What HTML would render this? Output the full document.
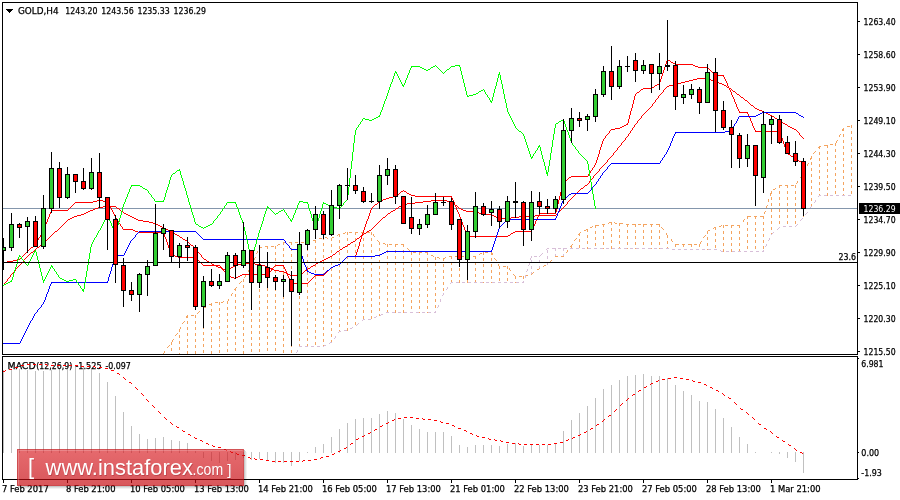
<!DOCTYPE html>
<html><head><meta charset="utf-8"><title>GOLD H4</title>
<style>
html,body{margin:0;padding:0;background:#fff;}
body{width:900px;height:500px;overflow:hidden;}
svg{display:block;font-family:"DejaVu Sans Condensed","DejaVu Sans","Liberation Sans",sans-serif;}
.wm{font-family:"Liberation Sans",sans-serif;}
</style></head><body>
<svg width="900" height="500" viewBox="0 0 900 500" shape-rendering="crispEdges">
<defs>
<clipPath id="cm"><rect x="3" y="3" width="854" height="351"/></clipPath>
<linearGradient id="wg" x1="0" y1="0" x2="0" y2="1"><stop offset="0" stop-color="rgb(216,22,28)" stop-opacity="0.64"/><stop offset="1" stop-color="rgb(198,8,14)" stop-opacity="0.68"/></linearGradient>
<clipPath id="cs"><rect x="3" y="357" width="854" height="122"/></clipPath>
</defs>
<rect width="900" height="500" fill="#fff"/>
<g clip-path="url(#cm)">
<path d="M163.5 353v3M163.5 359v3M163.5 365v3M163.5 371v3M163.5 377v3M163.5 383v3M163.5 389v3M163.5 395v3" fill="none" stroke="#F4A460" stroke-width="1"/>
<path d="M171.5 342v3M171.5 348v3M171.5 354v3M171.5 360v3M171.5 366v3M171.5 372v3M171.5 378v3M171.5 384v3M171.5 390v3M171.5 396v3" fill="none" stroke="#F4A460" stroke-width="1"/>
<path d="M179.5 329v3M179.5 335v3M179.5 341v3M179.5 347v3M179.5 353v3M179.5 359v3M179.5 365v3M179.5 371v3M179.5 377v3M179.5 383v3M179.5 389v3M179.5 395v3" fill="none" stroke="#F4A460" stroke-width="1"/>
<path d="M187.5 315v3M187.5 321v3M187.5 327v3M187.5 333v3M187.5 339v3M187.5 345v3M187.5 351v3M187.5 357v3M187.5 363v3M187.5 369v3M187.5 375v3M187.5 381v3M187.5 387v3M187.5 393v3M187.5 399v2" fill="none" stroke="#F4A460" stroke-width="1"/>
<path d="M195.5 315v3M195.5 321v3M195.5 327v3M195.5 333v3M195.5 339v3M195.5 345v3M195.5 351v3M195.5 357v3M195.5 363v3M195.5 369v3M195.5 375v3M195.5 381v3M195.5 387v3M195.5 393v3M195.5 399v2" fill="none" stroke="#F4A460" stroke-width="1"/>
<path d="M203.5 308v3M203.5 314v3M203.5 320v3M203.5 326v3M203.5 332v3M203.5 338v3M203.5 344v3M203.5 350v3M203.5 356v3M203.5 362v3M203.5 368v3M203.5 374v3M203.5 380v3M203.5 386v3M203.5 392v3M203.5 398v3" fill="none" stroke="#F4A460" stroke-width="1"/>
<path d="M211.5 303v3M211.5 309v3M211.5 315v3M211.5 321v3M211.5 327v3M211.5 333v3M211.5 339v3M211.5 345v3M211.5 351v3M211.5 357v3M211.5 363v3M211.5 369v3M211.5 375v3M211.5 381v3M211.5 387v3M211.5 393v3M211.5 399v2" fill="none" stroke="#F4A460" stroke-width="1"/>
<path d="M219.5 302v3M219.5 308v3M219.5 314v3M219.5 320v3M219.5 326v3M219.5 332v3M219.5 338v3M219.5 344v3M219.5 350v3M219.5 356v3M219.5 362v3M219.5 368v3M219.5 374v3M219.5 380v3M219.5 386v3M219.5 392v3M219.5 398v3" fill="none" stroke="#F4A460" stroke-width="1"/>
<path d="M227.5 301v3M227.5 307v3M227.5 313v3M227.5 319v3M227.5 325v3M227.5 331v3M227.5 337v3M227.5 343v3M227.5 349v3M227.5 355v3M227.5 361v3M227.5 367v3M227.5 373v3M227.5 379v3M227.5 385v3M227.5 391v3M227.5 397v3" fill="none" stroke="#F4A460" stroke-width="1"/>
<path d="M235.5 288v3M235.5 294v3M235.5 300v3M235.5 306v3M235.5 312v3M235.5 318v3M235.5 324v3M235.5 330v3M235.5 336v3M235.5 342v3M235.5 348v3M235.5 354v3M235.5 360v3M235.5 366v3M235.5 372v3M235.5 378v3M235.5 384v3M235.5 390v3M235.5 396v3" fill="none" stroke="#F4A460" stroke-width="1"/>
<path d="M243.5 279v3M243.5 285v3M243.5 291v3M243.5 297v3M243.5 303v3M243.5 309v3M243.5 315v3M243.5 321v3M243.5 327v3M243.5 333v3M243.5 339v3M243.5 345v3M243.5 351v3M243.5 357v3M243.5 363v3M243.5 369v3M243.5 375v3M243.5 381v3M243.5 387v3M243.5 393v3M243.5 399v2" fill="none" stroke="#F4A460" stroke-width="1"/>
<path d="M251.5 265v3M251.5 271v3M251.5 277v3M251.5 283v3M251.5 289v3M251.5 295v3M251.5 301v3M251.5 307v3M251.5 313v3M251.5 319v3M251.5 325v3M251.5 331v3M251.5 337v3M251.5 343v3M251.5 349v3M251.5 355v3M251.5 361v3M251.5 367v3M251.5 373v3M251.5 379v3M251.5 385v3M251.5 391v3M251.5 397v3" fill="none" stroke="#F4A460" stroke-width="1"/>
<path d="M259.5 247v3M259.5 253v3M259.5 259v3M259.5 265v3M259.5 271v3M259.5 277v3M259.5 283v3M259.5 289v3M259.5 295v3M259.5 301v3M259.5 307v3M259.5 313v3M259.5 319v3M259.5 325v3M259.5 331v3M259.5 337v3M259.5 343v3M259.5 349v3M259.5 355v3M259.5 361v3M259.5 367v3M259.5 373v3M259.5 379v3M259.5 385v3M259.5 391v3M259.5 397v3" fill="none" stroke="#F4A460" stroke-width="1"/>
<path d="M267.5 246v3M267.5 252v3M267.5 258v3M267.5 264v3M267.5 270v3M267.5 276v3M267.5 282v3M267.5 288v3M267.5 294v3M267.5 300v3M267.5 306v3M267.5 312v3M267.5 318v3M267.5 324v3M267.5 330v3M267.5 336v3M267.5 342v3M267.5 348v3M267.5 354v3M267.5 360v3M267.5 366v3M267.5 372v3M267.5 378v3M267.5 384v3M267.5 390v3M267.5 396v3" fill="none" stroke="#F4A460" stroke-width="1"/>
<path d="M275.5 246v3M275.5 252v3M275.5 258v3M275.5 264v3M275.5 270v3M275.5 276v3M275.5 282v3M275.5 288v3M275.5 294v3M275.5 300v3M275.5 306v3M275.5 312v3M275.5 318v3M275.5 324v3M275.5 330v3M275.5 336v3M275.5 342v3M275.5 348v3M275.5 354v3M275.5 360v3M275.5 366v3M275.5 372v3M275.5 378v3M275.5 384v3M275.5 390v3M275.5 396v3" fill="none" stroke="#F4A460" stroke-width="1"/>
<path d="M283.5 242v3M283.5 248v3M283.5 254v3M283.5 260v3M283.5 266v3M283.5 272v3M283.5 278v3M283.5 284v3M283.5 290v3M283.5 296v3M283.5 302v3M283.5 308v3M283.5 314v3M283.5 320v3M283.5 326v3M283.5 332v3M283.5 338v3M283.5 344v3M283.5 350v3M283.5 356v3M283.5 362v3M283.5 368v3M283.5 374v3M283.5 380v3M283.5 386v3M283.5 392v3M283.5 398v3" fill="none" stroke="#F4A460" stroke-width="1"/>
<path d="M291.5 242v3M291.5 248v3M291.5 254v3M291.5 260v3M291.5 266v3M291.5 272v3M291.5 278v3M291.5 284v3M291.5 290v3M291.5 296v3M291.5 302v3M291.5 308v3M291.5 314v3M291.5 320v3M291.5 326v3M291.5 332v3M291.5 338v3M291.5 344v3M291.5 350v3M291.5 356v3M291 362.5h1" fill="none" stroke="#F4A460" stroke-width="1"/>
<path d="M299.5 242v3M299.5 248v3M299.5 254v3M299.5 260v3M299.5 266v3M299.5 272v3M299.5 278v3M299.5 284v3M299.5 290v3M299.5 296v3M299.5 302v3M299.5 308v3M299.5 314v3M299.5 320v3M299.5 326v3M299.5 332v3M299.5 338v3M299.5 344v3" fill="none" stroke="#F4A460" stroke-width="1"/>
<path d="M307.5 242v3M307.5 248v3M307.5 254v3M307.5 260v3M307.5 266v3M307.5 272v3M307.5 278v3M307.5 284v3M307.5 290v3M307.5 296v3M307.5 302v3M307.5 308v3M307.5 314v3M307.5 320v3M307.5 326v3M307.5 332v3M307.5 338v3M307.5 344v3" fill="none" stroke="#F4A460" stroke-width="1"/>
<path d="M315.5 240v3M315.5 246v3M315.5 252v3M315.5 258v3M315.5 264v3M315.5 270v3M315.5 276v3M315.5 282v3M315.5 288v3M315.5 294v3M315.5 300v3M315.5 306v3M315.5 312v3M315.5 318v3M315.5 324v3M315.5 330v3M315.5 336v3M315.5 342v3" fill="none" stroke="#F4A460" stroke-width="1"/>
<path d="M323.5 237v3M323.5 243v3M323.5 249v3M323.5 255v3M323.5 261v3M323.5 267v3M323.5 273v3M323.5 279v3M323.5 285v3M323.5 291v3M323.5 297v3M323.5 303v3M323.5 309v3M323.5 315v3M323.5 321v3M323.5 327v3M323.5 333v3M323.5 339v3M323.5 345v2" fill="none" stroke="#F4A460" stroke-width="1"/>
<path d="M331.5 238v3M331.5 244v3M331.5 250v3M331.5 256v3M331.5 262v3M331.5 268v3M331.5 274v3M331.5 280v3M331.5 286v3M331.5 292v3M331.5 298v3M331.5 304v3M331.5 310v3M331.5 316v3M331.5 322v3M331.5 328v3M331.5 334v3M331.5 340v3" fill="none" stroke="#F4A460" stroke-width="1"/>
<path d="M339.5 234v3M339.5 240v3M339.5 246v3M339.5 252v3M339.5 258v3M339.5 264v3M339.5 270v3M339.5 276v3M339.5 282v3M339.5 288v3M339.5 294v3M339.5 300v3M339.5 306v3M339.5 312v3M339.5 318v3M339.5 324v3M339.5 330v2" fill="none" stroke="#F4A460" stroke-width="1"/>
<path d="M347.5 232v3M347.5 238v3M347.5 244v3M347.5 250v3M347.5 256v3M347.5 262v3M347.5 268v3M347.5 274v3M347.5 280v3M347.5 286v3M347.5 292v3M347.5 298v3M347.5 304v3M347.5 310v3M347.5 316v3M347.5 322v3M347.5 328v3" fill="none" stroke="#F4A460" stroke-width="1"/>
<path d="M355.5 232v3M355.5 238v3M355.5 244v3M355.5 250v3M355.5 256v3M355.5 262v3M355.5 268v3M355.5 274v3M355.5 280v3M355.5 286v3M355.5 292v3M355.5 298v3M355.5 304v3M355.5 310v3M355.5 316v3M355.5 322v3" fill="none" stroke="#F4A460" stroke-width="1"/>
<path d="M363.5 232v3M363.5 238v3M363.5 244v3M363.5 250v3M363.5 256v3M363.5 262v3M363.5 268v3M363.5 274v3M363.5 280v3M363.5 286v3M363.5 292v3M363.5 298v3M363.5 304v3M363.5 310v3M363.5 316v3" fill="none" stroke="#F4A460" stroke-width="1"/>
<path d="M371.5 232v3M371.5 238v3M371.5 244v3M371.5 250v3M371.5 256v3M371.5 262v3M371.5 268v3M371.5 274v3M371.5 280v3M371.5 286v3M371.5 292v3M371.5 298v3M371.5 304v3M371.5 310v3M371.5 316v3" fill="none" stroke="#F4A460" stroke-width="1"/>
<path d="M379.5 242v3M379.5 248v3M379.5 254v3M379.5 260v3M379.5 266v3M379.5 272v3M379.5 278v3M379.5 284v3M379.5 290v3M379.5 296v3M379.5 302v3M379.5 308v3M379.5 314v2" fill="none" stroke="#F4A460" stroke-width="1"/>
<path d="M387.5 244v3M387.5 250v3M387.5 256v3M387.5 262v3M387.5 268v3M387.5 274v3M387.5 280v3M387.5 286v3M387.5 292v3M387.5 298v3M387.5 304v3M387.5 310v3" fill="none" stroke="#F4A460" stroke-width="1"/>
<path d="M395.5 244v3M395.5 250v3M395.5 256v3M395.5 262v3M395.5 268v3M395.5 274v3M395.5 280v3M395.5 286v3M395.5 292v3M395.5 298v3M395.5 304v3M395.5 310v3" fill="none" stroke="#F4A460" stroke-width="1"/>
<path d="M403.5 244v3M403.5 250v3M403.5 256v3M403.5 262v3M403.5 268v3M403.5 274v3M403.5 280v3M403.5 286v3M403.5 292v3M403.5 298v3M403.5 304v3M403.5 310v3" fill="none" stroke="#F4A460" stroke-width="1"/>
<path d="M411.5 252v3M411.5 258v3M411.5 264v3M411.5 270v3M411.5 276v3M411.5 282v3M411.5 288v3M411.5 294v3M411.5 300v3M411.5 306v3M411 312.5h1" fill="none" stroke="#F4A460" stroke-width="1"/>
<path d="M419.5 252v3M419.5 258v3M419.5 264v3M419.5 270v3M419.5 276v3M419.5 282v3M419.5 288v3M419.5 294v3M419.5 300v3M419.5 306v3M419 312.5h1" fill="none" stroke="#F4A460" stroke-width="1"/>
<path d="M427.5 252v3M427.5 258v3M427.5 264v3M427.5 270v3M427.5 276v3M427.5 282v3M427.5 288v3M427.5 294v3M427.5 300v3M427.5 306v3M427 312.5h1" fill="none" stroke="#F4A460" stroke-width="1"/>
<path d="M435.5 257v3M435.5 263v3M435.5 269v3M435.5 275v3M435.5 281v3M435.5 287v3M435.5 293v3M435.5 299v3M435.5 305v3M435.5 311v2" fill="none" stroke="#F4A460" stroke-width="1"/>
<path d="M443.5 258v3M443.5 264v3M443.5 270v3M443.5 276v3M443.5 282v3M443.5 288v3" fill="none" stroke="#F4A460" stroke-width="1"/>
<path d="M451.5 256v3M451.5 262v3M451.5 268v3M451.5 274v3M451.5 280v3" fill="none" stroke="#F4A460" stroke-width="1"/>
<path d="M459.5 256v3M459.5 262v3M459.5 268v3M459.5 274v3M459.5 280v3" fill="none" stroke="#F4A460" stroke-width="1"/>
<path d="M467.5 256v3M467.5 262v3M467.5 268v3M467.5 274v3M467.5 280v3" fill="none" stroke="#F4A460" stroke-width="1"/>
<path d="M475.5 256v3M475.5 262v3M475.5 268v3M475.5 274v3M475.5 280v3" fill="none" stroke="#F4A460" stroke-width="1"/>
<path d="M483.5 252v3M483.5 258v3M483.5 264v3M483.5 270v3M483.5 276v3M483 282.5h1" fill="none" stroke="#F4A460" stroke-width="1"/>
<path d="M491.5 252v3M491.5 258v3M491.5 264v3M491.5 270v3M491.5 276v3M491 282.5h1" fill="none" stroke="#F4A460" stroke-width="1"/>
<path d="M499.5 266v3M499.5 272v3M499.5 278v3" fill="none" stroke="#F4A460" stroke-width="1"/>
<path d="M507.5 266v3M507.5 272v3M507.5 278v3" fill="none" stroke="#F4A460" stroke-width="1"/>
<path d="M515.5 276v3M515 282.5h1" fill="none" stroke="#F4A460" stroke-width="1"/>
<path d="M523.5 276v3M523 282.5h1" fill="none" stroke="#F4A460" stroke-width="1"/>
<path d="M531.5 272v3M531.5 266v3M531.5 260v3M531 256.5h1" fill="none" stroke="#D8BFD8" stroke-width="1"/>
<path d="M539.5 266v3M539.5 260v3M539 256.5h1" fill="none" stroke="#D8BFD8" stroke-width="1"/>
<path d="M547.5 262v3M547.5 256v3M547.5 250v3" fill="none" stroke="#D8BFD8" stroke-width="1"/>
<path d="M555.5 254v3M555.5 248v3" fill="none" stroke="#D8BFD8" stroke-width="1"/>
<path d="M563.5 254v3M563.5 248v3" fill="none" stroke="#D8BFD8" stroke-width="1"/>
<path d="M571.5 245v3" fill="none" stroke="#F4A460" stroke-width="1"/>
<path d="M579.5 233v3M579.5 239v3M579.5 245v3" fill="none" stroke="#F4A460" stroke-width="1"/>
<path d="M587.5 229v3M587.5 235v3M587.5 241v3M587.5 247v2" fill="none" stroke="#F4A460" stroke-width="1"/>
<path d="M595.5 225v3M595.5 231v3M595.5 237v3M595.5 243v3" fill="none" stroke="#F4A460" stroke-width="1"/>
<path d="M603.5 224v3M603.5 230v3M603.5 236v3M603.5 242v3M603 248.5h1" fill="none" stroke="#F4A460" stroke-width="1"/>
<path d="M611.5 222v3M611.5 228v3M611.5 234v3M611.5 240v3M611.5 246v3" fill="none" stroke="#F4A460" stroke-width="1"/>
<path d="M619.5 223v3M619.5 229v3M619.5 235v3M619.5 241v3M619.5 247v2" fill="none" stroke="#F4A460" stroke-width="1"/>
<path d="M627.5 224v3M627.5 230v3M627.5 236v3M627.5 242v3M627 248.5h1" fill="none" stroke="#F4A460" stroke-width="1"/>
<path d="M635.5 224v3M635.5 230v3M635.5 236v3M635.5 242v3M635 248.5h1" fill="none" stroke="#F4A460" stroke-width="1"/>
<path d="M643.5 224v3M643.5 230v3M643.5 236v3M643.5 242v3M643 248.5h1" fill="none" stroke="#F4A460" stroke-width="1"/>
<path d="M651.5 224v3M651.5 230v3M651.5 236v3M651.5 242v3M651 248.5h1" fill="none" stroke="#F4A460" stroke-width="1"/>
<path d="M659.5 224v3M659.5 230v3M659.5 236v3M659.5 242v3M659 248.5h1" fill="none" stroke="#F4A460" stroke-width="1"/>
<path d="M667.5 235v3M667.5 241v3M667.5 247v2" fill="none" stroke="#F4A460" stroke-width="1"/>
<path d="M675.5 244v3" fill="none" stroke="#F4A460" stroke-width="1"/>
<path d="M683.5 244v3" fill="none" stroke="#F4A460" stroke-width="1"/>
<path d="M691.5 244v3" fill="none" stroke="#F4A460" stroke-width="1"/>
<path d="M699.5 244v3" fill="none" stroke="#F4A460" stroke-width="1"/>
<path d="M707.5 231v3M707.5 237v3M707.5 243v3M707 249.5h1" fill="none" stroke="#F4A460" stroke-width="1"/>
<path d="M715.5 227v3M715.5 233v3M715.5 239v3M715.5 245v3" fill="none" stroke="#F4A460" stroke-width="1"/>
<path d="M723.5 225v3M723.5 231v3M723.5 237v3M723.5 243v3M723.5 249v3" fill="none" stroke="#F4A460" stroke-width="1"/>
<path d="M731.5 225v3M731.5 231v3M731.5 237v3M731.5 243v3M731.5 249v3" fill="none" stroke="#F4A460" stroke-width="1"/>
<path d="M739.5 225v3M739.5 231v3M739.5 237v3M739.5 243v3M739.5 249v3" fill="none" stroke="#F4A460" stroke-width="1"/>
<path d="M747.5 216v3M747.5 222v3M747.5 228v3M747.5 234v3M747.5 240v3M747.5 246v3" fill="none" stroke="#F4A460" stroke-width="1"/>
<path d="M755.5 216v3M755.5 222v3M755.5 228v3M755.5 234v3M755.5 240v3M755.5 246v3" fill="none" stroke="#F4A460" stroke-width="1"/>
<path d="M763.5 216v3M763.5 222v3M763.5 228v3M763.5 234v3M763.5 240v3M763.5 246v3" fill="none" stroke="#F4A460" stroke-width="1"/>
<path d="M771.5 191v3M771.5 197v3M771.5 203v3M771.5 209v3M771.5 215v3M771.5 221v3M771.5 227v3M771.5 233v2" fill="none" stroke="#F4A460" stroke-width="1"/>
<path d="M779.5 185v3M779.5 191v3M779.5 197v3M779.5 203v3M779.5 209v3M779.5 215v3M779.5 221v3M779 227.5h1" fill="none" stroke="#F4A460" stroke-width="1"/>
<path d="M787.5 185v3M787.5 191v3M787.5 197v3M787.5 203v3M787.5 209v3M787.5 215v3M787.5 221v3" fill="none" stroke="#F4A460" stroke-width="1"/>
<path d="M795.5 185v3M795.5 191v3M795.5 197v3M795.5 203v3M795.5 209v3M795.5 215v3M795.5 221v3" fill="none" stroke="#F4A460" stroke-width="1"/>
<path d="M803.5 172v3M803.5 178v3M803.5 184v3M803.5 190v3M803.5 196v3M803.5 202v3M803.5 208v3M803.5 214v3" fill="none" stroke="#F4A460" stroke-width="1"/>
<path d="M811.5 156v3M811.5 162v3M811.5 168v3M811.5 174v3M811.5 180v3M811.5 186v3M811.5 192v3M811.5 198v3M811.5 204v3" fill="none" stroke="#F4A460" stroke-width="1"/>
<path d="M819.5 146v3M819.5 152v3M819.5 158v3M819.5 164v3M819.5 170v3M819.5 176v3M819.5 182v3M819.5 188v3M819.5 194v2" fill="none" stroke="#F4A460" stroke-width="1"/>
<path d="M827.5 145v3M827.5 151v3M827.5 157v3M827.5 163v3M827.5 169v3M827.5 175v3M827.5 181v3M827.5 187v3M827.5 193v3" fill="none" stroke="#F4A460" stroke-width="1"/>
<path d="M835.5 143v3M835.5 149v3M835.5 155v3M835.5 161v3M835.5 167v3M835.5 173v3M835.5 179v3M835.5 185v3M835.5 191v3" fill="none" stroke="#F4A460" stroke-width="1"/>
<path d="M843.5 128v3M843.5 134v3M843.5 140v3M843.5 146v3M843.5 152v3M843.5 158v3M843.5 164v3M843.5 170v3M843.5 176v3M843.5 182v3M843.5 188v3M843.5 194v2" fill="none" stroke="#F4A460" stroke-width="1"/>
<path d="M851.5 125v3M851.5 131v3M851.5 137v3M851.5 143v3M851.5 149v3M851.5 155v3M851.5 161v3M851.5 167v3M851.5 173v3M851.5 179v3M851.5 185v3M851.5 191v3" fill="none" stroke="#F4A460" stroke-width="1"/>
<path d="M163 353.5h1M164.5 351v2M167 347.5h1M168 346.5h1M169 345.5h1M172.5 340v2M173 339.5h1M175 335.5h1M176 334.5h1M177 333.5h1M179 329.5h1M180.5 327v2M182 323.5h1M183 322.5h1M184 321.5h1M186.5 316v2M187 315.5h1M191 315.5h3M197 313.5h1M198 312.5h1M199 311.5h1M203 308.5h1M204 307.5h2M209 304.5h2M211 303.5h1M215 302.5h3M221 302.5h2M223 301.5h1M227 301.5h1M228.5 299v2M231.5 294v2M232 293.5h1M234 289.5h1M235 288.5h1M236 287.5h1M239 283.5h1M240 282.5h1M241 281.5h1M244 277.5h1M245.5 275v2M248.5 270v2M249 269.5h1M251.5 264v2M252 263.5h1M254.5 258v2M255 257.5h1M256 253.5h1M257.5 251v2M259 247.5h3M265 246.5h3M271 246.5h3M277 245.5h1M278 244.5h2M283 242.5h3M289 242.5h3M295 242.5h3M301 242.5h3M307 242.5h2M309 241.5h1M313 240.5h3M319 238.5h3M325 237.5h2M327 238.5h1M331 238.5h1M332 237.5h2M337 235.5h1M338 234.5h2M343 233.5h2M345 232.5h1M349 232.5h3M355 232.5h3M361 232.5h3M367 232.5h3M373.5 234v2M374 236.5h1M377 240.5h1M378 241.5h1M379 242.5h1M383 243.5h2M385 244.5h1M389 244.5h3M395 244.5h3M401 244.5h3M407 248.5h1M408 249.5h1M409 250.5h1M413 252.5h3M419 252.5h3M425 252.5h3M431 255.5h2M433 256.5h1M437 257.5h2M439 258.5h1M443 258.5h2M445 257.5h1M449 256.5h3M455 256.5h3M461 256.5h3M467 256.5h3M473 256.5h3M479 254.5h1M480 253.5h2M485 252.5h3M491 252.5h1M492.5 253v2M494 258.5h1M495 259.5h1M496 260.5h1M498.5 264v2M499 266.5h1M503 266.5h3M509.5 268v2M510 270.5h1M513 274.5h1M514 275.5h1M515 276.5h1M519 276.5h3M525 275.5h3M531 274.5h1M532 273.5h1M533 272.5h1M537 269.5h2M539 268.5h1M543 266.5h1M544 265.5h2M549 262.5h1M550 261.5h1M551 260.5h1M555 256.5h3M561 256.5h3M566 252.5h1M567.5 250v2M570 246.5h1M571 245.5h1M572 244.5h1M574 240.5h1M575 239.5h1M576 238.5h1M578 234.5h1M579 233.5h1M580 232.5h1M584 230.5h2M586 229.5h1M590 227.5h2M592 226.5h1M596 225.5h3M602 224.5h3M608 223.5h1M609 222.5h2M614 222.5h1M615 223.5h2M620 223.5h3M626 224.5h3M632 224.5h3M638 224.5h3M644 224.5h3M650 224.5h3M656 224.5h3M661 227.5h1M662 228.5h1M663 229.5h1M666.5 233v2M667 235.5h1M671.5 239v2M672 241.5h1M676 244.5h3M682 244.5h3M688 244.5h3M694 244.5h3M700.5 242v2M701 241.5h1M703 237.5h1M704 236.5h1M705 235.5h1M707 231.5h1M708 230.5h2M713 228.5h1M714 227.5h2M719 226.5h2M721 225.5h1M725 225.5h3M731 225.5h3M737 225.5h3M743.5 220v2M744 219.5h1M748 216.5h3M754 216.5h3M760 216.5h3M764.5 212v2M765 211.5h1M766.5 206v2M767 205.5h1M768.5 199v3M770.5 193v3M773 189.5h2M775 188.5h1M779 185.5h3M785 185.5h3M791 185.5h3M796 183.5h1M797.5 181v2M800 177.5h1M801.5 175v2M804.5 170v2M805 169.5h1M807.5 164v2M808 163.5h1M810.5 158v2M811 157.5h1M813 153.5h1M814 152.5h1M815 151.5h1M818 147.5h1M819 146.5h2M824 145.5h3M830 144.5h3M836.5 141v2M837 140.5h1M839.5 135v2M840 134.5h1M842.5 129v2M843 128.5h1M847 126.5h3" fill="none" stroke="#F4A460" stroke-width="1"/>
<path d="M291 362.5h1M293 358.5h1M294.5 356v2M296 352.5h1M297.5 350v2M299 346.5h3M305 346.5h3M311 346.5h3M317 346.5h3M323 346.5h1M324 345.5h2M329 343.5h1M330 342.5h2M334 338.5h1M335.5 336v2M338 332.5h1M339 331.5h2M344 330.5h3M350 328.5h2M352 327.5h1M356 325.5h1M357 324.5h1M358 323.5h1M362 320.5h1M363 319.5h2M368 319.5h3M374 317.5h2M376 316.5h1M380 315.5h1M381 314.5h2M386 312.5h3M392 312.5h3M398 312.5h3M404 312.5h3M410 312.5h3M416 312.5h3M422 312.5h3M428 312.5h3M434 312.5h2M435 311.5h1M437 307.5h1M438.5 305v2M440.5 299v3M442 295.5h1M443.5 293v2M446 289.5h1M447.5 287v2M450 283.5h1M451 282.5h2M456 282.5h3M462 282.5h3M468 282.5h3M474 282.5h3M480 282.5h3M486 282.5h3M492 282.5h3M498 282.5h3M504 282.5h3M510 282.5h3M516 282.5h3M522 282.5h2M523 281.5h1M525.5 275v3M526 271.5h1M527.5 269v2M528 265.5h1M529.5 263v2M530.5 258v2M531 257.5h1M534 256.5h3M540 255.5h1M541 254.5h1M542 253.5h1M546 249.5h1M547 248.5h2M552 248.5h3M558 248.5h3M564 248.5h3M570 248.5h3M576 248.5h3M582 248.5h3M588 248.5h3M594 248.5h3M600 248.5h3M606 248.5h3M612 248.5h3M618 248.5h3M624 248.5h3M630 248.5h3M636 248.5h3M642 248.5h3M648 248.5h3M654 248.5h3M660 248.5h3M666 248.5h3M672 249.5h3M678 249.5h3M684 249.5h3M690 249.5h3M696 249.5h3M702 249.5h3M708 249.5h3M714 249.5h3M720 250.5h1M721 251.5h2M726 251.5h3M732 251.5h3M738 251.5h3M744 251.5h3M750 251.5h3M756 251.5h3M762 251.5h2M763 250.5h1M765 246.5h1M766.5 244v2M768 240.5h1M769.5 238v2M771 234.5h1M772 233.5h1M773 232.5h1M777 229.5h1M778 228.5h1M779 227.5h1M783 226.5h3M789 226.5h3M795 226.5h1M796 225.5h1M797 224.5h1M800 220.5h1M801 219.5h1M802 218.5h1M805 214.5h1M806 213.5h1M807 212.5h1M810.5 207v2M811 206.5h1M814 202.5h1M815.5 200v2M818 196.5h1M819 195.5h2M824 195.5h3M830 195.5h3M836 195.5h3M842 195.5h3M848 195.5h3" fill="none" stroke="#D8BFD8" stroke-width="1"/>
<rect x="3" y="208" width="854" height="1" fill="#8496AC"/>
<path d="M3 285.5h1M4.5 283v2M5 282.5h1M6 281.5h1M7.5 279v2M8 278.5h1M9 277.5h1M10.5 275v2M11 274.5h1M12 273.5h1M13 272.5h1M14 271.5h1M15.5 269v2M16 268.5h1M17 267.5h1M18 266.5h1M19 265.5h1M20 264.5h1M21 263.5h1M22 262.5h1M23.5 260v2M24 259.5h1M25 258.5h1M26 257.5h1M27 256.5h1M28 255.5h1M29 254.5h1M30 253.5h1M31 252.5h2M33 251.5h1M34 250.5h1M35 249.5h1M36 248.5h1M37 247.5h2M39 246.5h1M40 245.5h1M41 244.5h2M43 243.5h1M44 242.5h1M45 241.5h1M46 240.5h1M47 239.5h1M48 238.5h1M49 237.5h1M50 236.5h1M51 235.5h1M52 234.5h1M53 233.5h1M54 232.5h1M55 231.5h2M57 230.5h1M58 229.5h1M59 228.5h1M60 227.5h1M61 226.5h1M62 225.5h1M63 224.5h1M64 223.5h1M65 222.5h1M66 221.5h1M67 220.5h1M68 219.5h2M70 218.5h2M72 217.5h2M74 216.5h3M77 215.5h4M81 214.5h3M84 213.5h2M86 212.5h2M88 211.5h2M90 210.5h3M93 209.5h2M95 208.5h3M98 207.5h5M103 206.5h13M116 207.5h1M117 208.5h2M119 209.5h1M120 210.5h1M121 211.5h2M123 212.5h1M124 213.5h2M126 214.5h2M128 215.5h2M130 216.5h2M132 217.5h2M134 218.5h2M136 219.5h2M138 220.5h5M143 221.5h6M149 222.5h4M153 223.5h3M156 224.5h2M158 225.5h2M160 226.5h2M162 227.5h2M164 228.5h2M166 229.5h2M168 230.5h2M170 231.5h2M172 232.5h2M174 233.5h1M175 234.5h2M177 235.5h2M179 236.5h1M180 237.5h2M182 238.5h1M183 239.5h2M185 240.5h2M187 241.5h1M188 242.5h1M189 243.5h1M190 244.5h1M191 245.5h2M193 246.5h1M194 247.5h1M195 248.5h1M196 249.5h1M197.5 250v2M198 252.5h1M199 253.5h1M200 254.5h1M201.5 255v2M202 257.5h1M203 258.5h1M204 259.5h2M206 260.5h1M207 261.5h2M209 262.5h2M211 263.5h1M212 264.5h2M214 265.5h2M216 266.5h2M218 267.5h3M221 268.5h2M223 269.5h3M226 270.5h2M228 269.5h2M230 268.5h1M231 267.5h2M233 266.5h2M235 265.5h2M237 264.5h4M241 263.5h14M255 264.5h6M261 265.5h4M265 266.5h3M268 267.5h2M270 268.5h2M272 269.5h2M274 270.5h5M279 271.5h5M284 272.5h2M286 273.5h2M288 274.5h2M290 275.5h10M300 274.5h1M301 273.5h2M303 272.5h1M304 271.5h1M305 270.5h2M307 269.5h1M308 268.5h2M310 267.5h1M311 266.5h2M313 265.5h2M315 264.5h1M316 263.5h2M318 262.5h2M320 261.5h2M322 260.5h2M324 259.5h2M326 258.5h2M328 257.5h2M330 256.5h2M332 255.5h1M333 254.5h2M335 253.5h1M336 252.5h1M337 251.5h2M339 250.5h1M340 249.5h2M342 248.5h1M343 247.5h2M345 246.5h2M347 245.5h1M348 244.5h2M350 243.5h1M351 242.5h2M353 241.5h2M355 240.5h1M356 239.5h1M357 238.5h2M359 237.5h1M360 236.5h1M361 235.5h2M363 234.5h1M364 233.5h2M366 232.5h1M367 231.5h2M369 230.5h2M371 229.5h1M372 228.5h1M373 227.5h1M374 226.5h1M375 225.5h1M376 224.5h1M377 223.5h1M378 222.5h1M379 221.5h1M380 220.5h1M381 219.5h1M382 218.5h1M383 217.5h2M385 216.5h1M386 215.5h1M387 214.5h1M388 213.5h2M390 212.5h1M391 211.5h2M393 210.5h2M395 209.5h1M396 208.5h2M398 207.5h1M399 206.5h2M401 205.5h2M403 204.5h4M407 203.5h8M415 202.5h8M423 201.5h8M431 200.5h16M447 201.5h5M452 202.5h1M453 203.5h1M454 204.5h1M455 205.5h2M457 206.5h1M458 207.5h1M459 208.5h2M461 209.5h2M463 210.5h3M466 211.5h11M477 212.5h2M479 213.5h3M482 214.5h10M492 215.5h2M494 216.5h2M496 217.5h2M498 218.5h13M511 217.5h8M519 216.5h16M535 215.5h21M556 214.5h1M557 213.5h1M558 212.5h1M559 211.5h1M560 210.5h1M561 209.5h1M562 208.5h1M563 207.5h1M564 206.5h1M565 205.5h1M566 204.5h1M567.5 202v2M568 201.5h1M569 200.5h1M570 199.5h1M571 198.5h1M572 197.5h1M573 196.5h1M574 195.5h1M575 194.5h1M576 193.5h1M577 192.5h1M578 191.5h1M579 190.5h1M580 189.5h1M581 188.5h2M583 187.5h1M584 186.5h1M585 185.5h2M587 184.5h1M588 183.5h1M589.5 181v2M590 180.5h1M591 179.5h1M592 178.5h1M593.5 176v2M594 175.5h1M595 174.5h1M596 173.5h1M597 172.5h1M598 171.5h1M599.5 169v2M600 168.5h1M601 167.5h1M602 166.5h1M603 165.5h1M604 164.5h1M605 163.5h1M606 162.5h1M607.5 160v2M608 159.5h1M609 158.5h1M610 157.5h1M611 156.5h1M612 155.5h1M613.5 153v2M614 152.5h1M615 151.5h1M616 150.5h1M617.5 148v2M618 147.5h1M619 146.5h1M620 145.5h1M621.5 143v2M622 142.5h1M623 141.5h1M624 140.5h1M625.5 138v2M626 137.5h1M627 136.5h1M628.5 134v2M629 133.5h1M630.5 131v2M631 130.5h1M632.5 128v2M633 127.5h1M634.5 125v2M635 124.5h1M636 123.5h1M637.5 121v2M638 120.5h1M639 119.5h1M640 118.5h1M641.5 116v2M642 115.5h1M643 114.5h1M644 113.5h1M645 112.5h1M646 111.5h1M647 110.5h1M648 109.5h1M649 108.5h1M650 107.5h1M651 106.5h1M652.5 104v2M653 103.5h1M654 102.5h1M655.5 100v2M656 99.5h1M657 98.5h1M658.5 96v2M659 95.5h1M660 94.5h1M661 93.5h1M662 92.5h1M663.5 90v2M664 89.5h1M665 88.5h1M666 87.5h1M667 86.5h2M669 85.5h4M673 84.5h4M677 83.5h4M681 82.5h4M685 81.5h4M689 80.5h4M693 79.5h4M697 78.5h12M709 79.5h2M711 80.5h3M714 81.5h3M717 82.5h2M719 83.5h3M722 84.5h2M724 85.5h2M726 86.5h1M727 87.5h2M729 88.5h2M731 89.5h1M732 90.5h1M733 91.5h2M735 92.5h1M736 93.5h1M737 94.5h2M739 95.5h1M740 96.5h1M741 97.5h2M743 98.5h1M744 99.5h1M745 100.5h2M747 101.5h1M748 102.5h1M749 103.5h1M750 104.5h1M751 105.5h2M753 106.5h1M754 107.5h1M755 108.5h2M757 109.5h2M759 110.5h3M762 111.5h2M764 112.5h2M766 113.5h2M768 114.5h2M770 115.5h2M772 116.5h2M774 117.5h1M775 118.5h2M777 119.5h2M779 120.5h1M780 121.5h2M782 122.5h1M783 123.5h2M785 124.5h2M787 125.5h1M788 126.5h2M790 127.5h2M792 128.5h2M794 129.5h2M796 130.5h1M797 131.5h1M798 132.5h1M799.5 133v2M800 135.5h1M801 136.5h1M802 137.5h1M803 138.5h1" fill="none" stroke="#FF0000" stroke-width="1"/>
<path d="M3 262.5h4M7 261.5h6M13 260.5h4M17 259.5h3M20 258.5h1M21 257.5h1M22 256.5h1M23 255.5h1M24 254.5h1M25 253.5h1M26 252.5h1M27 251.5h1M28 250.5h1M29 249.5h1M30 248.5h1M31 247.5h2M33 246.5h1M34 245.5h1M35 244.5h1M36.5 242v2M37.5 240v2M38.5 238v2M39 237.5h1M40.5 235v2M41.5 233v2M42.5 231v2M43.5 229v2M44.5 227v2M45.5 224v3M46.5 222v2M47.5 219v3M48.5 217v2M49.5 214v3M50.5 212v2M51.5 210v2M52 210.5h16M68 209.5h1M69 208.5h1M70 207.5h1M71 206.5h1M72 205.5h1M73 204.5h1M74 203.5h1M75 202.5h18M93 201.5h4M97 200.5h6M103 201.5h5M108.5 202v2M109.5 204v2M110.5 206v2M111.5 208v2M112.5 210v2M113.5 212v2M114.5 214v2M115.5 216v2M116.5 218v2M117 220.5h1M118.5 221v2M119 223.5h1M120.5 224v2M121 226.5h1M122.5 227v2M123 229.5h10M133 230.5h2M135 231.5h3M138 232.5h26M163 233.5h1M164.5 234v3M165.5 237v2M166.5 239v3M167.5 242v3M168.5 245v3M169.5 248v2M170.5 250v3M171.5 253v2M172 254.5h1M173 255.5h2M175 256.5h3M178 257.5h18M196 258.5h1M197 259.5h1M198 260.5h1M199 261.5h1M200 262.5h1M201 263.5h1M202 264.5h1M203 265.5h17M220 266.5h1M221.5 267v2M222 269.5h1M223 270.5h1M224 271.5h1M225.5 272v2M226 274.5h1M227 275.5h2M229 276.5h2M231 277.5h3M234 278.5h2M236 277.5h2M238 276.5h2M240 275.5h2M242 274.5h26M268 273.5h1M269 272.5h1M270 271.5h1M271.5 269v2M272 268.5h1M273 267.5h1M274 266.5h1M275 265.5h9M283 266.5h1M284.5 267v2M285.5 269v2M286.5 271v2M287.5 273v3M288.5 276v2M289.5 278v2M290.5 280v2M291.5 282v2M292 283.5h16M308 282.5h1M309 281.5h1M310 280.5h1M311 279.5h1M312 278.5h1M313 277.5h1M314 276.5h1M315 275.5h9M324 274.5h1M325 273.5h1M326 272.5h1M327 271.5h1M328 270.5h1M329 269.5h1M330 268.5h1M331 267.5h2M333 266.5h2M335 265.5h3M338 264.5h2M340 263.5h1M341 262.5h1M342 261.5h1M343 260.5h1M344 259.5h1M345 258.5h1M346 257.5h1M347 256.5h9M355 255.5h1M356.5 252v3M357.5 249v3M358.5 246v3M359.5 242v4M360.5 239v3M361.5 236v3M362.5 233v3M363.5 230v3M364.5 227v3M365.5 224v3M366.5 221v3M367.5 219v2M368.5 216v3M369.5 213v3M370.5 210v3M371.5 208v2M372 207.5h1M373 206.5h1M374 205.5h1M375 204.5h2M377 203.5h1M378 202.5h1M379 201.5h2M381 200.5h2M383 199.5h3M386 198.5h3M389 197.5h4M393 196.5h3M396 195.5h1M397 194.5h2M399 193.5h1M400 192.5h1M401 191.5h2M403 190.5h1M404 191.5h2M406 192.5h1M407 193.5h2M409 194.5h2M411 195.5h4M415 196.5h37M451 197.5h1M452.5 198v2M453.5 200v2M454.5 202v3M455.5 205v2M456.5 207v3M457.5 210v2M458.5 212v2M459.5 214v3M460.5 217v2M461.5 219v3M462.5 222v3M463.5 225v2M464.5 227v3M465.5 230v3M466.5 233v2M467.5 235v2M468 236.5h40M508 235.5h2M510 234.5h1M511 233.5h2M513 232.5h2M515 231.5h17M531 230.5h1M532.5 228v2M533.5 226v2M534.5 224v2M535.5 221v3M536.5 219v2M537.5 217v2M538.5 215v2M539.5 213v2M540 213.5h16M555 212.5h1M556.5 208v4M557.5 204v4M558.5 200v4M559.5 196v4M560.5 192v4M561.5 188v4M562.5 184v4M563.5 182v2M564 181.5h1M565 180.5h2M567 179.5h1M568 178.5h1M569 177.5h2M571 176.5h17M588.5 174v2M589 173.5h1M590.5 171v2M591 170.5h1M592.5 168v2M593 167.5h1M594.5 165v2M595.5 163v2M596.5 160v3M597.5 157v3M598.5 154v3M599.5 150v4M600.5 147v3M601.5 144v3M602.5 141v3M603.5 139v2M604 138.5h1M605.5 136v2M606 135.5h1M607 134.5h1M608 133.5h1M609.5 131v2M610 130.5h1M611 129.5h4M615 128.5h5M620 127.5h2M622 126.5h2M624 125.5h2M626 124.5h2M627 123.5h1M628.5 119v4M629.5 115v4M630.5 111v4M631.5 108v3M632.5 104v4M633.5 100v4M634.5 96v4M635.5 94v2M636 93.5h1M637 92.5h2M639 91.5h1M640 90.5h1M641 89.5h2M643 88.5h9M652 87.5h2M654 86.5h1M655 85.5h2M657 84.5h2M659.5 82v2M660.5 79v3M661.5 76v3M662.5 73v3M663.5 70v3M664.5 67v3M665.5 64v3M666.5 61v3M667.5 59v2M668 60.5h2M670 61.5h1M671 62.5h2M673 63.5h2M675 64.5h18M693 65.5h2M695 66.5h3M698 67.5h10M708 68.5h1M709 69.5h1M710 70.5h1M711 71.5h1M712 72.5h1M713 73.5h1M714 74.5h1M715 75.5h9M723 76.5h1M724.5 77v2M725.5 79v2M726.5 81v2M727.5 83v3M728.5 86v2M729.5 88v2M730.5 90v2M731.5 92v3M732.5 95v2M733.5 97v2M734.5 99v3M735.5 102v2M736.5 104v3M737.5 107v2M738.5 109v2M739.5 111v2M740 112.5h8M747 113.5h1M748.5 114v2M749.5 116v2M750.5 118v3M751.5 121v2M752.5 123v3M753.5 126v2M754.5 128v2M755.5 130v2M756 131.5h24M779 132.5h1M780.5 133v3M781.5 136v2M782.5 138v3M783.5 141v3M784.5 144v3M785.5 147v2M786.5 149v3M787.5 152v2M788 154.5h2M790 155.5h1M791 156.5h2M793 157.5h2M795 158.5h1M796 159.5h2M798 160.5h1M799 161.5h2M801 162.5h2M803 163.5h1" fill="none" stroke="#FF0000" stroke-width="1"/>
<path d="M3 343.5h17M20.5 341v2M21.5 339v2M22.5 337v2M23.5 335v2M24.5 333v2M25.5 331v2M26.5 329v2M27.5 327v2M28.5 325v2M29.5 323v2M30.5 321v2M31 320.5h1M32.5 318v2M33.5 316v2M34.5 314v2M35 313.5h1M36 312.5h1M37.5 310v2M38 309.5h1M39 308.5h1M40 307.5h1M41.5 305v2M42 304.5h1M43.5 302v2M44.5 300v2M45.5 297v3M46.5 294v3M47.5 292v2M48.5 289v3M49.5 286v3M50.5 284v2M51.5 282v2M52 282.5h56M107 281.5h1M108.5 277v4M109.5 274v3M110.5 271v3M111.5 267v4M112.5 264v3M113.5 261v3M114.5 257v4M115.5 255v2M116 255.5h8M124.5 253v2M125.5 251v2M126.5 249v2M127.5 247v2M128.5 245v2M129.5 243v2M130.5 241v2M131 240.5h1M132 239.5h1M133 238.5h1M134 237.5h1M135.5 235v2M136 234.5h1M137 233.5h1M138 232.5h1M139 231.5h57M196 232.5h1M197 233.5h1M198 234.5h1M199 235.5h1M200 236.5h1M201 237.5h1M202 238.5h1M203 239.5h81M284 240.5h1M285.5 241v2M286 243.5h1M287 244.5h1M288 245.5h1M289.5 246v2M290 248.5h1M291 249.5h9M299 250.5h1M300.5 251v3M301.5 254v2M302.5 256v3M303.5 259v3M304.5 262v3M305.5 265v2M306.5 267v3M307.5 270v2M308 271.5h1M309 272.5h2M311 273.5h3M314 274.5h10M324 273.5h1M325 272.5h1M326 271.5h1M327 270.5h2M329 269.5h1M330 268.5h1M331 267.5h2M333 266.5h2M335 265.5h3M338 264.5h2M340 263.5h1M341 262.5h1M342 261.5h1M343 260.5h1M344 259.5h1M345 258.5h1M346 257.5h1M347 256.5h28M375 255.5h5M380 254.5h2M382 253.5h2M384 252.5h2M386 251.5h106M491 250.5h1M492.5 247v3M493.5 244v3M494.5 241v3M495.5 238v3M496.5 235v3M497.5 232v3M498.5 229v3M499.5 227v2M500 226.5h1M501 225.5h1M502 224.5h1M503 223.5h1M504 222.5h1M505 221.5h1M506 220.5h1M507 219.5h49M555 218.5h1M556.5 216v2M557.5 213v3M558.5 211v2M559.5 208v3M560.5 206v2M561.5 203v3M562.5 201v2M563.5 199v2M564 198.5h1M565 197.5h2M567 196.5h1M568 195.5h1M569 194.5h2M571 193.5h17M588 192.5h1M589 191.5h1M590 190.5h1M591.5 188v2M592 187.5h1M593 186.5h1M594 185.5h1M595 184.5h1M596.5 182v2M597 181.5h1M598.5 179v2M599 178.5h1M600.5 176v2M601 175.5h1M602.5 173v2M603 172.5h1M604 171.5h1M605 170.5h1M606 169.5h1M607.5 167v2M608 166.5h1M609 165.5h1M610 164.5h1M611 163.5h49M660.5 161v2M661 160.5h1M662.5 158v2M663 157.5h1M664.5 155v2M665 154.5h1M666.5 152v2M667.5 150v2M668.5 148v2M669.5 146v2M670.5 143v3M671.5 141v2M672.5 138v3M673.5 136v2M674.5 134v2M675.5 132v2M676 132.5h49M725 131.5h4M729 130.5h3M732.5 128v2M733.5 126v2M734.5 124v2M735 123.5h1M736.5 121v2M737.5 119v2M738.5 117v2M739 116.5h17M756 115.5h2M758 114.5h2M760 113.5h2M762 112.5h34M796 113.5h2M798 114.5h1M799 115.5h2M801 116.5h2M803 117.5h1" fill="none" stroke="#0000FF" stroke-width="1"/>
<path d="M3 285.5h1M4 284.5h2M6 283.5h2M8 282.5h2M10 281.5h2M11 280.5h1M12.5 277v3M13.5 273v4M14.5 270v3M15.5 267v3M16.5 264v3M17.5 260v4M18.5 257v3M19.5 255v2M20 256.5h1M21.5 257v2M22 259.5h1M23 260.5h1M24 261.5h1M25.5 262v2M26 264.5h1M27 265.5h1M28.5 263v2M29.5 261v2M30.5 259v2M31.5 257v2M32.5 255v2M33.5 253v2M34.5 251v2M35.5 250v2M36.5 252v4M37.5 256v4M38.5 260v4M39.5 264v4M40.5 268v4M41.5 272v4M42.5 276v4M43.5 280v3M43 281.5h1M44.5 279v2M45.5 277v2M46.5 275v2M47.5 273v2M48.5 271v2M49.5 269v2M50.5 267v2M51.5 265v2M52.5 266v2M53 268.5h1M54.5 269v2M55 271.5h1M56.5 272v2M57 274.5h1M58.5 275v2M59 277.5h1M60 278.5h2M62 279.5h2M64 280.5h2M66 281.5h3M69 280.5h4M73 279.5h3M76.5 280v2M77 282.5h1M78.5 283v2M79 285.5h1M80.5 286v2M81 288.5h1M82.5 289v2M83.5 289v3M84.5 283v6M85.5 277v6M86.5 271v6M87.5 265v6M88.5 259v6M89.5 253v6M90.5 247v6M91.5 244v3M92.5 242v2M93.5 240v2M94.5 238v2M95 237.5h1M96.5 235v2M97.5 233v2M98.5 231v2M99 230.5h1M100.5 228v2M101.5 226v2M102.5 224v2M103.5 222v2M104.5 220v2M105.5 218v2M106.5 216v2M107.5 214v2M107 215.5h1M108.5 216v2M109.5 218v3M110.5 221v2M111.5 223v3M112.5 226v2M113.5 228v3M114.5 231v2M115.5 233v2M115 233.5h1M116.5 229v4M117.5 225v4M118.5 222v3M119.5 218v4M120.5 215v3M121.5 211v4M122.5 207v4M123.5 204v3M124.5 202v2M125.5 199v3M126.5 197v2M127.5 194v3M128.5 192v2M129.5 189v3M130.5 187v2M131.5 185v2M132 185.5h8M140 186.5h2M142 187.5h1M143 188.5h2M145 189.5h2M147 190.5h1M148.5 191v2M149 193.5h1M150 194.5h1M151.5 195v2M152 197.5h1M153 198.5h1M154.5 199v2M155 201.5h9M163 200.5h1M164.5 197v3M165.5 193v4M166.5 190v3M167.5 187v3M168.5 184v3M169.5 180v4M170.5 177v3M171.5 175v2M172 174.5h1M173 173.5h2M175 172.5h1M176 171.5h1M177 170.5h2M179.5 169v2M180.5 171v4M181.5 175v3M182.5 178v3M183.5 181v4M184.5 185v3M185.5 188v3M186.5 191v4M187.5 195v3M188.5 198v4M189.5 202v3M190.5 205v3M191.5 208v4M192.5 212v3M193.5 215v3M194.5 218v4M195.5 222v2M196 224.5h2M198 225.5h1M199 226.5h2M201 227.5h2M203 228.5h1M204 227.5h2M206 226.5h2M208 225.5h2M210 224.5h2M212 223.5h1M213.5 221v2M214 220.5h1M215 219.5h1M216 218.5h1M217.5 216v2M218 215.5h1M219 214.5h1M220.5 212v2M221 211.5h1M222.5 209v2M223 208.5h1M224.5 206v2M225 205.5h1M226.5 203v2M227 202.5h9M235 203.5h1M236.5 204v3M237.5 207v2M238.5 209v3M239.5 212v3M240.5 215v3M241.5 218v2M242.5 220v3M243.5 223v4M244.5 227v4M245.5 231v4M246.5 235v5M247.5 240v4M248.5 244v5M249.5 249v4M250.5 253v4M251.5 257v3M251 258.5h1M252.5 254v4M253.5 251v3M254.5 247v4M255.5 244v3M256.5 240v4M257.5 237v3M258.5 233v4M259.5 230v3M260.5 227v3M261.5 224v3M262.5 221v3M263.5 217v4M264.5 214v3M265.5 211v3M266.5 208v3M267.5 206v2M268 207.5h1M269 208.5h1M270 209.5h1M271 210.5h1M272 211.5h1M273 212.5h1M274 213.5h1M275 214.5h1M276 213.5h2M278 212.5h1M279 211.5h2M281 210.5h2M283 209.5h1M284.5 210v2M285 212.5h1M286.5 213v2M287 215.5h1M288.5 216v2M289 218.5h1M290.5 219v2M291.5 220v2M292.5 218v2M293.5 215v3M294.5 213v2M295.5 210v3M296.5 208v2M297.5 205v3M298.5 203v2M299.5 201v2M300 201.5h3M303 202.5h5M307 203.5h1M308.5 204v4M309.5 208v3M310.5 211v3M311.5 214v4M312.5 218v3M313.5 221v3M314.5 224v4M315.5 228v2M315 228.5h1M316.5 224v4M317.5 221v3M318.5 218v3M319.5 214v4M320.5 211v3M321.5 208v3M322.5 204v4M323.5 202v2M324 203.5h2M326 204.5h2M328 205.5h2M330 206.5h3M333 207.5h4M337 208.5h3M340 207.5h1M341 206.5h1M342 205.5h1M343.5 203v2M344 202.5h1M345 201.5h1M346 200.5h1M347.5 195v5M348.5 187v8M349.5 178v9M350.5 169v9M351.5 161v8M352.5 152v9M353.5 143v9M354.5 135v8M355.5 130v5M356.5 128v2M357 127.5h1M358.5 125v2M359 124.5h1M360.5 122v2M361 121.5h1M362.5 119v2M363 118.5h2M365 119.5h4M369 120.5h3M372 119.5h2M374 118.5h2M376 117.5h2M378 116.5h2M379 115.5h1M380.5 112v3M381.5 110v2M382.5 107v3M383.5 104v3M384.5 101v3M385.5 99v2M386.5 96v3M387.5 93v3M388.5 90v3M389.5 87v3M390.5 84v3M391.5 82v2M392.5 79v3M393.5 76v3M394.5 73v3M395.5 71v2M396.5 72v2M397.5 74v2M398.5 76v2M399.5 78v2M400.5 80v2M401.5 82v2M402.5 84v2M403.5 85v2M404.5 83v2M405.5 80v3M406.5 78v2M407.5 75v3M408.5 73v2M409.5 70v3M410.5 68v2M411.5 66v2M412 66.5h8M420 67.5h2M422 68.5h2M424 69.5h2M426 70.5h2M428 69.5h2M430 68.5h1M431 67.5h2M433 66.5h2M435 65.5h1M436 66.5h1M437 67.5h1M438 68.5h1M439 69.5h1M440 70.5h1M441 71.5h1M442 72.5h1M443 73.5h1M444 72.5h1M445 71.5h1M446 70.5h1M447 69.5h2M449 68.5h1M450 67.5h1M451 66.5h4M455 65.5h5M459 66.5h1M460.5 67v4M461.5 71v4M462.5 75v4M463.5 79v4M464.5 83v4M465.5 87v4M466.5 91v4M467.5 95v2M468 96.5h1M469 95.5h4M473 94.5h3M476 93.5h2M478 92.5h1M479 91.5h2M481 90.5h2M483 89.5h1M484.5 90v2M485.5 92v2M486 94.5h1M487.5 95v2M488 97.5h1M489.5 98v2M490.5 100v2M491.5 101v2M492.5 97v4M493.5 93v4M494.5 89v4M495.5 86v3M496.5 82v4M497.5 78v4M498.5 74v4M499.5 72v2M499.5 73v2M500.5 75v5M501.5 80v4M502.5 84v5M503.5 89v5M504.5 94v5M505.5 99v4M506.5 103v5M507.5 108v4M508.5 112v2M509.5 114v2M510.5 116v2M511.5 118v2M512.5 120v2M513.5 122v2M514.5 124v2M515.5 126v2M516 128.5h1M517 129.5h1M518 130.5h1M519 131.5h2M521 132.5h1M522 133.5h1M523.5 134v2M524.5 136v3M525.5 139v3M526.5 142v3M527.5 145v3M528.5 148v3M529.5 151v3M530.5 154v3M531.5 157v2M532.5 156v2M533.5 154v2M534 153.5h1M535.5 151v2M536 150.5h1M537.5 148v2M538.5 146v2M539.5 145v2M540.5 147v4M541.5 151v4M542.5 155v4M543.5 159v3M544.5 162v4M545.5 166v4M546.5 170v4M547.5 174v2M547.5 172v3M548.5 166v6M549.5 160v6M550.5 153v7M551.5 147v6M552.5 140v7M553.5 134v6M554.5 128v6M555.5 124v4M556 123.5h2M558 122.5h1M559 121.5h2M561 120.5h2M563.5 119v2M564.5 121v3M565.5 124v3M566.5 127v3M567.5 130v2M568.5 132v3M569.5 135v3M570.5 138v3M571.5 141v2M572.5 143v2M573 145.5h1M574 146.5h1M575.5 147v2M576 149.5h1M577 150.5h1M578.5 151v2M579 153.5h1M580 154.5h1M581 155.5h1M582 156.5h1M583 157.5h1M584 158.5h1M585 159.5h1M586 160.5h1M587.5 161v3M588.5 164v6M589.5 170v6M590.5 176v6M591.5 182v6M592.5 188v6M593.5 194v6M594.5 200v6M595.5 206v3" fill="none" stroke="#00FF00" stroke-width="1"/>
<rect x="3" y="262" width="854" height="1" fill="#000"/>
<rect x="3" y="238" width="1" height="32" fill="#000"/>
<rect x="1" y="247" width="5" height="4" fill="#000"/>
<rect x="2" y="248" width="3" height="2" fill="#32CD32"/>
<rect x="11" y="213" width="1" height="38" fill="#000"/>
<rect x="9" y="224" width="5" height="24" fill="#000"/>
<rect x="10" y="225" width="3" height="22" fill="#32CD32"/>
<rect x="19" y="223" width="1" height="15" fill="#000"/>
<rect x="17" y="224" width="5" height="4" fill="#000"/>
<rect x="18" y="225" width="3" height="2" fill="#FF0000"/>
<rect x="27" y="217" width="1" height="36" fill="#000"/>
<rect x="25" y="221" width="5" height="6" fill="#000"/>
<rect x="26" y="222" width="3" height="4" fill="#32CD32"/>
<rect x="35" y="216" width="1" height="31" fill="#000"/>
<rect x="33" y="221" width="5" height="26" fill="#000"/>
<rect x="34" y="222" width="3" height="24" fill="#FF0000"/>
<rect x="43" y="195" width="1" height="54" fill="#000"/>
<rect x="41" y="208" width="5" height="39" fill="#000"/>
<rect x="42" y="209" width="3" height="37" fill="#32CD32"/>
<rect x="51" y="152" width="1" height="61" fill="#000"/>
<rect x="49" y="168" width="5" height="41" fill="#000"/>
<rect x="50" y="169" width="3" height="39" fill="#32CD32"/>
<rect x="59" y="162" width="1" height="46" fill="#000"/>
<rect x="57" y="168" width="5" height="30" fill="#000"/>
<rect x="58" y="169" width="3" height="28" fill="#FF0000"/>
<rect x="67" y="167" width="1" height="32" fill="#000"/>
<rect x="65" y="174" width="5" height="24" fill="#000"/>
<rect x="66" y="175" width="3" height="22" fill="#32CD32"/>
<rect x="75" y="174" width="1" height="19" fill="#000"/>
<rect x="73" y="174" width="5" height="8" fill="#000"/>
<rect x="74" y="175" width="3" height="6" fill="#FF0000"/>
<rect x="83" y="168" width="1" height="22" fill="#000"/>
<rect x="81" y="181" width="5" height="8" fill="#000"/>
<rect x="82" y="182" width="3" height="6" fill="#FF0000"/>
<rect x="91" y="158" width="1" height="32" fill="#000"/>
<rect x="89" y="172" width="5" height="17" fill="#000"/>
<rect x="90" y="173" width="3" height="15" fill="#32CD32"/>
<rect x="99" y="153" width="1" height="55" fill="#000"/>
<rect x="97" y="172" width="5" height="26" fill="#000"/>
<rect x="98" y="173" width="3" height="24" fill="#FF0000"/>
<rect x="107" y="197" width="1" height="53" fill="#000"/>
<rect x="105" y="197" width="5" height="23" fill="#000"/>
<rect x="106" y="198" width="3" height="21" fill="#FF0000"/>
<rect x="115" y="215" width="1" height="68" fill="#000"/>
<rect x="113" y="219" width="5" height="46" fill="#000"/>
<rect x="114" y="220" width="3" height="44" fill="#FF0000"/>
<rect x="123" y="258" width="1" height="49" fill="#000"/>
<rect x="121" y="265" width="5" height="26" fill="#000"/>
<rect x="122" y="266" width="3" height="24" fill="#FF0000"/>
<rect x="131" y="282" width="1" height="19" fill="#000"/>
<rect x="129" y="290" width="5" height="5" fill="#000"/>
<rect x="130" y="291" width="3" height="3" fill="#FF0000"/>
<rect x="139" y="273" width="1" height="39" fill="#000"/>
<rect x="137" y="274" width="5" height="21" fill="#000"/>
<rect x="138" y="275" width="3" height="19" fill="#32CD32"/>
<rect x="147" y="260" width="1" height="36" fill="#000"/>
<rect x="145" y="266" width="5" height="9" fill="#000"/>
<rect x="146" y="267" width="3" height="7" fill="#32CD32"/>
<rect x="155" y="204" width="1" height="62" fill="#000"/>
<rect x="153" y="233" width="5" height="33" fill="#000"/>
<rect x="154" y="234" width="3" height="31" fill="#32CD32"/>
<rect x="163" y="224" width="1" height="26" fill="#000"/>
<rect x="161" y="228" width="5" height="6" fill="#000"/>
<rect x="162" y="229" width="3" height="4" fill="#32CD32"/>
<rect x="171" y="230" width="1" height="33" fill="#000"/>
<rect x="169" y="230" width="5" height="27" fill="#000"/>
<rect x="170" y="231" width="3" height="25" fill="#FF0000"/>
<rect x="179" y="243" width="1" height="25" fill="#000"/>
<rect x="177" y="245" width="5" height="12" fill="#000"/>
<rect x="178" y="246" width="3" height="10" fill="#32CD32"/>
<rect x="187" y="237" width="1" height="24" fill="#000"/>
<rect x="185" y="245" width="5" height="3" fill="#000"/>
<rect x="186" y="246" width="3" height="1" fill="#FF0000"/>
<rect x="195" y="245" width="1" height="65" fill="#000"/>
<rect x="193" y="247" width="5" height="60" fill="#000"/>
<rect x="194" y="248" width="3" height="58" fill="#FF0000"/>
<rect x="203" y="276" width="1" height="52" fill="#000"/>
<rect x="201" y="281" width="5" height="26" fill="#000"/>
<rect x="202" y="282" width="3" height="24" fill="#32CD32"/>
<rect x="211" y="269" width="1" height="18" fill="#000"/>
<rect x="209" y="281" width="5" height="5" fill="#000"/>
<rect x="210" y="282" width="3" height="3" fill="#FF0000"/>
<rect x="219" y="274" width="1" height="15" fill="#000"/>
<rect x="217" y="281" width="5" height="5" fill="#000"/>
<rect x="218" y="282" width="3" height="3" fill="#32CD32"/>
<rect x="227" y="252" width="1" height="30" fill="#000"/>
<rect x="225" y="255" width="5" height="27" fill="#000"/>
<rect x="226" y="256" width="3" height="25" fill="#32CD32"/>
<rect x="235" y="253" width="1" height="26" fill="#000"/>
<rect x="233" y="255" width="5" height="11" fill="#000"/>
<rect x="234" y="256" width="3" height="9" fill="#FF0000"/>
<rect x="243" y="222" width="1" height="46" fill="#000"/>
<rect x="241" y="250" width="5" height="16" fill="#000"/>
<rect x="242" y="251" width="3" height="14" fill="#32CD32"/>
<rect x="251" y="250" width="1" height="60" fill="#000"/>
<rect x="249" y="250" width="5" height="33" fill="#000"/>
<rect x="250" y="251" width="3" height="31" fill="#FF0000"/>
<rect x="259" y="245" width="1" height="43" fill="#000"/>
<rect x="257" y="265" width="5" height="18" fill="#000"/>
<rect x="258" y="266" width="3" height="16" fill="#32CD32"/>
<rect x="267" y="252" width="1" height="36" fill="#000"/>
<rect x="265" y="267" width="5" height="11" fill="#000"/>
<rect x="266" y="268" width="3" height="9" fill="#FF0000"/>
<rect x="275" y="275" width="1" height="15" fill="#000"/>
<rect x="273" y="277" width="5" height="5" fill="#000"/>
<rect x="274" y="278" width="3" height="3" fill="#FF0000"/>
<rect x="283" y="275" width="1" height="22" fill="#000"/>
<rect x="281" y="279" width="5" height="3" fill="#000"/>
<rect x="282" y="280" width="3" height="1" fill="#32CD32"/>
<rect x="291" y="271" width="1" height="75" fill="#000"/>
<rect x="289" y="279" width="5" height="13" fill="#000"/>
<rect x="290" y="280" width="3" height="11" fill="#FF0000"/>
<rect x="299" y="232" width="1" height="63" fill="#000"/>
<rect x="297" y="244" width="5" height="49" fill="#000"/>
<rect x="298" y="245" width="3" height="47" fill="#32CD32"/>
<rect x="307" y="229" width="1" height="21" fill="#000"/>
<rect x="305" y="230" width="5" height="15" fill="#000"/>
<rect x="306" y="231" width="3" height="13" fill="#32CD32"/>
<rect x="315" y="206" width="1" height="33" fill="#000"/>
<rect x="313" y="214" width="5" height="16" fill="#000"/>
<rect x="314" y="215" width="3" height="14" fill="#32CD32"/>
<rect x="323" y="211" width="1" height="28" fill="#000"/>
<rect x="321" y="214" width="5" height="21" fill="#000"/>
<rect x="322" y="215" width="3" height="19" fill="#FF0000"/>
<rect x="331" y="190" width="1" height="46" fill="#000"/>
<rect x="329" y="205" width="5" height="30" fill="#000"/>
<rect x="330" y="206" width="3" height="28" fill="#32CD32"/>
<rect x="339" y="184" width="1" height="35" fill="#000"/>
<rect x="337" y="185" width="5" height="21" fill="#000"/>
<rect x="338" y="186" width="3" height="19" fill="#32CD32"/>
<rect x="347" y="168" width="1" height="32" fill="#000"/>
<rect x="345" y="185" width="5" height="1" fill="#000"/>
<rect x="355" y="175" width="1" height="19" fill="#000"/>
<rect x="353" y="185" width="5" height="6" fill="#000"/>
<rect x="354" y="186" width="3" height="4" fill="#FF0000"/>
<rect x="363" y="187" width="1" height="16" fill="#000"/>
<rect x="361" y="191" width="5" height="11" fill="#000"/>
<rect x="362" y="192" width="3" height="9" fill="#FF0000"/>
<rect x="371" y="193" width="1" height="10" fill="#000"/>
<rect x="369" y="201" width="5" height="1" fill="#000"/>
<rect x="379" y="165" width="1" height="44" fill="#000"/>
<rect x="377" y="175" width="5" height="27" fill="#000"/>
<rect x="378" y="176" width="3" height="25" fill="#32CD32"/>
<rect x="387" y="158" width="1" height="27" fill="#000"/>
<rect x="385" y="169" width="5" height="7" fill="#000"/>
<rect x="386" y="170" width="3" height="5" fill="#32CD32"/>
<rect x="395" y="165" width="1" height="39" fill="#000"/>
<rect x="393" y="169" width="5" height="28" fill="#000"/>
<rect x="394" y="170" width="3" height="26" fill="#FF0000"/>
<rect x="403" y="196" width="1" height="28" fill="#000"/>
<rect x="401" y="196" width="5" height="28" fill="#000"/>
<rect x="402" y="197" width="3" height="26" fill="#FF0000"/>
<rect x="411" y="197" width="1" height="37" fill="#000"/>
<rect x="409" y="217" width="5" height="12" fill="#000"/>
<rect x="410" y="218" width="3" height="10" fill="#FF0000"/>
<rect x="419" y="219" width="1" height="16" fill="#000"/>
<rect x="417" y="224" width="5" height="5" fill="#000"/>
<rect x="418" y="225" width="3" height="3" fill="#32CD32"/>
<rect x="427" y="205" width="1" height="23" fill="#000"/>
<rect x="425" y="214" width="5" height="11" fill="#000"/>
<rect x="426" y="215" width="3" height="9" fill="#32CD32"/>
<rect x="435" y="193" width="1" height="22" fill="#000"/>
<rect x="433" y="202" width="5" height="13" fill="#000"/>
<rect x="434" y="203" width="3" height="11" fill="#32CD32"/>
<rect x="443" y="197" width="1" height="9" fill="#000"/>
<rect x="441" y="202" width="5" height="1" fill="#000"/>
<rect x="451" y="198" width="1" height="32" fill="#000"/>
<rect x="449" y="201" width="5" height="24" fill="#000"/>
<rect x="450" y="202" width="3" height="22" fill="#FF0000"/>
<rect x="459" y="219" width="1" height="48" fill="#000"/>
<rect x="457" y="219" width="5" height="41" fill="#000"/>
<rect x="458" y="220" width="3" height="39" fill="#FF0000"/>
<rect x="467" y="225" width="1" height="55" fill="#000"/>
<rect x="465" y="231" width="5" height="29" fill="#000"/>
<rect x="466" y="232" width="3" height="27" fill="#32CD32"/>
<rect x="475" y="192" width="1" height="46" fill="#000"/>
<rect x="473" y="206" width="5" height="26" fill="#000"/>
<rect x="474" y="207" width="3" height="24" fill="#32CD32"/>
<rect x="483" y="203" width="1" height="13" fill="#000"/>
<rect x="481" y="206" width="5" height="9" fill="#000"/>
<rect x="482" y="207" width="3" height="7" fill="#FF0000"/>
<rect x="491" y="201" width="1" height="25" fill="#000"/>
<rect x="489" y="209" width="5" height="4" fill="#000"/>
<rect x="490" y="210" width="3" height="2" fill="#32CD32"/>
<rect x="499" y="206" width="1" height="22" fill="#000"/>
<rect x="497" y="209" width="5" height="13" fill="#000"/>
<rect x="498" y="210" width="3" height="11" fill="#FF0000"/>
<rect x="507" y="196" width="1" height="32" fill="#000"/>
<rect x="505" y="201" width="5" height="21" fill="#000"/>
<rect x="506" y="202" width="3" height="19" fill="#32CD32"/>
<rect x="515" y="182" width="1" height="36" fill="#000"/>
<rect x="513" y="201" width="5" height="2" fill="#000"/>
<rect x="523" y="201" width="1" height="45" fill="#000"/>
<rect x="521" y="202" width="5" height="28" fill="#000"/>
<rect x="522" y="203" width="3" height="26" fill="#FF0000"/>
<rect x="531" y="191" width="1" height="50" fill="#000"/>
<rect x="529" y="202" width="5" height="28" fill="#000"/>
<rect x="530" y="203" width="3" height="26" fill="#32CD32"/>
<rect x="539" y="192" width="1" height="22" fill="#000"/>
<rect x="537" y="201" width="5" height="6" fill="#000"/>
<rect x="538" y="202" width="3" height="4" fill="#FF0000"/>
<rect x="547" y="199" width="1" height="15" fill="#000"/>
<rect x="545" y="206" width="5" height="3" fill="#000"/>
<rect x="546" y="207" width="3" height="1" fill="#FF0000"/>
<rect x="555" y="196" width="1" height="17" fill="#000"/>
<rect x="553" y="199" width="5" height="10" fill="#000"/>
<rect x="554" y="200" width="3" height="8" fill="#32CD32"/>
<rect x="563" y="119" width="1" height="85" fill="#000"/>
<rect x="561" y="130" width="5" height="70" fill="#000"/>
<rect x="562" y="131" width="3" height="68" fill="#32CD32"/>
<rect x="571" y="108" width="1" height="35" fill="#000"/>
<rect x="569" y="118" width="5" height="13" fill="#000"/>
<rect x="570" y="119" width="3" height="11" fill="#32CD32"/>
<rect x="579" y="112" width="1" height="15" fill="#000"/>
<rect x="577" y="118" width="5" height="3" fill="#000"/>
<rect x="578" y="119" width="3" height="1" fill="#FF0000"/>
<rect x="587" y="114" width="1" height="17" fill="#000"/>
<rect x="585" y="116" width="5" height="4" fill="#000"/>
<rect x="586" y="117" width="3" height="2" fill="#32CD32"/>
<rect x="595" y="89" width="1" height="33" fill="#000"/>
<rect x="593" y="94" width="5" height="23" fill="#000"/>
<rect x="594" y="95" width="3" height="21" fill="#32CD32"/>
<rect x="603" y="66" width="1" height="31" fill="#000"/>
<rect x="601" y="71" width="5" height="24" fill="#000"/>
<rect x="602" y="72" width="3" height="22" fill="#32CD32"/>
<rect x="611" y="46" width="1" height="54" fill="#000"/>
<rect x="609" y="71" width="5" height="16" fill="#000"/>
<rect x="610" y="72" width="3" height="14" fill="#FF0000"/>
<rect x="619" y="60" width="1" height="29" fill="#000"/>
<rect x="617" y="66" width="5" height="21" fill="#000"/>
<rect x="618" y="67" width="3" height="19" fill="#32CD32"/>
<rect x="627" y="56" width="1" height="16" fill="#000"/>
<rect x="625" y="66" width="5" height="1" fill="#000"/>
<rect x="635" y="53" width="1" height="29" fill="#000"/>
<rect x="633" y="60" width="5" height="11" fill="#000"/>
<rect x="634" y="61" width="3" height="9" fill="#FF0000"/>
<rect x="643" y="60" width="1" height="14" fill="#000"/>
<rect x="641" y="65" width="5" height="6" fill="#000"/>
<rect x="642" y="66" width="3" height="4" fill="#32CD32"/>
<rect x="651" y="64" width="1" height="29" fill="#000"/>
<rect x="649" y="64" width="5" height="10" fill="#000"/>
<rect x="650" y="65" width="3" height="8" fill="#FF0000"/>
<rect x="659" y="53" width="1" height="37" fill="#000"/>
<rect x="657" y="66" width="5" height="8" fill="#000"/>
<rect x="658" y="67" width="3" height="6" fill="#32CD32"/>
<rect x="667" y="20" width="1" height="51" fill="#000"/>
<rect x="665" y="65" width="5" height="2" fill="#000"/>
<rect x="675" y="61" width="1" height="49" fill="#000"/>
<rect x="673" y="65" width="5" height="32" fill="#000"/>
<rect x="674" y="66" width="3" height="30" fill="#FF0000"/>
<rect x="683" y="85" width="1" height="19" fill="#000"/>
<rect x="681" y="94" width="5" height="4" fill="#000"/>
<rect x="682" y="95" width="3" height="2" fill="#32CD32"/>
<rect x="691" y="84" width="1" height="15" fill="#000"/>
<rect x="689" y="89" width="5" height="6" fill="#000"/>
<rect x="690" y="90" width="3" height="4" fill="#32CD32"/>
<rect x="699" y="87" width="1" height="27" fill="#000"/>
<rect x="697" y="89" width="5" height="14" fill="#000"/>
<rect x="698" y="90" width="3" height="12" fill="#FF0000"/>
<rect x="707" y="64" width="1" height="39" fill="#000"/>
<rect x="705" y="72" width="5" height="31" fill="#000"/>
<rect x="706" y="73" width="3" height="29" fill="#32CD32"/>
<rect x="715" y="58" width="1" height="74" fill="#000"/>
<rect x="713" y="72" width="5" height="39" fill="#000"/>
<rect x="714" y="73" width="3" height="37" fill="#FF0000"/>
<rect x="723" y="101" width="1" height="29" fill="#000"/>
<rect x="721" y="110" width="5" height="18" fill="#000"/>
<rect x="722" y="111" width="3" height="16" fill="#FF0000"/>
<rect x="731" y="120" width="1" height="48" fill="#000"/>
<rect x="729" y="127" width="5" height="8" fill="#000"/>
<rect x="730" y="128" width="3" height="6" fill="#FF0000"/>
<rect x="739" y="133" width="1" height="35" fill="#000"/>
<rect x="737" y="135" width="5" height="24" fill="#000"/>
<rect x="738" y="136" width="3" height="22" fill="#FF0000"/>
<rect x="747" y="134" width="1" height="33" fill="#000"/>
<rect x="745" y="145" width="5" height="14" fill="#000"/>
<rect x="746" y="146" width="3" height="12" fill="#32CD32"/>
<rect x="755" y="145" width="1" height="61" fill="#000"/>
<rect x="753" y="145" width="5" height="31" fill="#000"/>
<rect x="754" y="146" width="3" height="29" fill="#FF0000"/>
<rect x="763" y="111" width="1" height="82" fill="#000"/>
<rect x="761" y="124" width="5" height="54" fill="#000"/>
<rect x="762" y="125" width="3" height="52" fill="#32CD32"/>
<rect x="771" y="116" width="1" height="28" fill="#000"/>
<rect x="769" y="119" width="5" height="6" fill="#000"/>
<rect x="770" y="120" width="3" height="4" fill="#32CD32"/>
<rect x="779" y="115" width="1" height="29" fill="#000"/>
<rect x="777" y="119" width="5" height="24" fill="#000"/>
<rect x="778" y="120" width="3" height="22" fill="#FF0000"/>
<rect x="787" y="136" width="1" height="18" fill="#000"/>
<rect x="785" y="142" width="5" height="12" fill="#000"/>
<rect x="786" y="143" width="3" height="10" fill="#FF0000"/>
<rect x="795" y="141" width="1" height="25" fill="#000"/>
<rect x="793" y="153" width="5" height="9" fill="#000"/>
<rect x="794" y="154" width="3" height="7" fill="#FF0000"/>
<rect x="803" y="158" width="1" height="58" fill="#000"/>
<rect x="801" y="161" width="5" height="48" fill="#000"/>
<rect x="802" y="162" width="3" height="46" fill="#FF0000"/>
</g>
<g clip-path="url(#cs)">
<rect x="3" y="370" width="1" height="83" fill="#C0C0C0"/>
<rect x="11" y="369" width="1" height="84" fill="#C0C0C0"/>
<rect x="19" y="369" width="1" height="84" fill="#C0C0C0"/>
<rect x="27" y="370" width="1" height="83" fill="#C0C0C0"/>
<rect x="35" y="371" width="1" height="82" fill="#C0C0C0"/>
<rect x="43" y="371" width="1" height="82" fill="#C0C0C0"/>
<rect x="51" y="370" width="1" height="83" fill="#C0C0C0"/>
<rect x="59" y="369" width="1" height="84" fill="#C0C0C0"/>
<rect x="67" y="367" width="1" height="86" fill="#C0C0C0"/>
<rect x="75" y="366" width="1" height="87" fill="#C0C0C0"/>
<rect x="83" y="366" width="1" height="87" fill="#C0C0C0"/>
<rect x="91" y="368" width="1" height="85" fill="#C0C0C0"/>
<rect x="99" y="373" width="1" height="80" fill="#C0C0C0"/>
<rect x="107" y="382" width="1" height="71" fill="#C0C0C0"/>
<rect x="115" y="396" width="1" height="57" fill="#C0C0C0"/>
<rect x="123" y="412" width="1" height="41" fill="#C0C0C0"/>
<rect x="131" y="426" width="1" height="27" fill="#C0C0C0"/>
<rect x="139" y="434" width="1" height="19" fill="#C0C0C0"/>
<rect x="147" y="439" width="1" height="14" fill="#C0C0C0"/>
<rect x="155" y="438" width="1" height="15" fill="#C0C0C0"/>
<rect x="163" y="437" width="1" height="16" fill="#C0C0C0"/>
<rect x="171" y="440" width="1" height="13" fill="#C0C0C0"/>
<rect x="179" y="441" width="1" height="12" fill="#C0C0C0"/>
<rect x="187" y="443" width="1" height="10" fill="#C0C0C0"/>
<rect x="195" y="451" width="1" height="2" fill="#C0C0C0"/>
<rect x="203" y="452" width="1" height="6" fill="#C0C0C0"/>
<rect x="211" y="452" width="1" height="9" fill="#C0C0C0"/>
<rect x="219" y="452" width="1" height="11" fill="#C0C0C0"/>
<rect x="227" y="452" width="1" height="9" fill="#C0C0C0"/>
<rect x="235" y="452" width="1" height="8" fill="#C0C0C0"/>
<rect x="243" y="452" width="1" height="6" fill="#C0C0C0"/>
<rect x="251" y="452" width="1" height="8" fill="#C0C0C0"/>
<rect x="259" y="452" width="1" height="7" fill="#C0C0C0"/>
<rect x="267" y="452" width="1" height="9" fill="#C0C0C0"/>
<rect x="275" y="452" width="1" height="11" fill="#C0C0C0"/>
<rect x="283" y="452" width="1" height="11" fill="#C0C0C0"/>
<rect x="291" y="452" width="1" height="14" fill="#C0C0C0"/>
<rect x="299" y="452" width="1" height="9" fill="#C0C0C0"/>
<rect x="307" y="452" width="1" height="1" fill="#C0C0C0"/>
<rect x="315" y="447" width="1" height="6" fill="#C0C0C0"/>
<rect x="323" y="444" width="1" height="9" fill="#C0C0C0"/>
<rect x="331" y="437" width="1" height="16" fill="#C0C0C0"/>
<rect x="339" y="429" width="1" height="24" fill="#C0C0C0"/>
<rect x="347" y="423" width="1" height="30" fill="#C0C0C0"/>
<rect x="355" y="419" width="1" height="34" fill="#C0C0C0"/>
<rect x="363" y="418" width="1" height="35" fill="#C0C0C0"/>
<rect x="371" y="418" width="1" height="35" fill="#C0C0C0"/>
<rect x="379" y="414" width="1" height="39" fill="#C0C0C0"/>
<rect x="387" y="411" width="1" height="42" fill="#C0C0C0"/>
<rect x="395" y="413" width="1" height="40" fill="#C0C0C0"/>
<rect x="403" y="419" width="1" height="34" fill="#C0C0C0"/>
<rect x="411" y="425" width="1" height="28" fill="#C0C0C0"/>
<rect x="419" y="429" width="1" height="24" fill="#C0C0C0"/>
<rect x="427" y="432" width="1" height="21" fill="#C0C0C0"/>
<rect x="435" y="432" width="1" height="21" fill="#C0C0C0"/>
<rect x="443" y="432" width="1" height="21" fill="#C0C0C0"/>
<rect x="451" y="436" width="1" height="17" fill="#C0C0C0"/>
<rect x="459" y="445" width="1" height="8" fill="#C0C0C0"/>
<rect x="467" y="447" width="1" height="6" fill="#C0C0C0"/>
<rect x="475" y="445" width="1" height="8" fill="#C0C0C0"/>
<rect x="483" y="445" width="1" height="8" fill="#C0C0C0"/>
<rect x="491" y="445" width="1" height="8" fill="#C0C0C0"/>
<rect x="499" y="446" width="1" height="7" fill="#C0C0C0"/>
<rect x="507" y="444" width="1" height="9" fill="#C0C0C0"/>
<rect x="515" y="443" width="1" height="10" fill="#C0C0C0"/>
<rect x="523" y="446" width="1" height="7" fill="#C0C0C0"/>
<rect x="531" y="445" width="1" height="8" fill="#C0C0C0"/>
<rect x="539" y="445" width="1" height="8" fill="#C0C0C0"/>
<rect x="547" y="445" width="1" height="8" fill="#C0C0C0"/>
<rect x="555" y="444" width="1" height="9" fill="#C0C0C0"/>
<rect x="563" y="431" width="1" height="22" fill="#C0C0C0"/>
<rect x="571" y="420" width="1" height="33" fill="#C0C0C0"/>
<rect x="579" y="413" width="1" height="40" fill="#C0C0C0"/>
<rect x="587" y="406" width="1" height="47" fill="#C0C0C0"/>
<rect x="595" y="398" width="1" height="55" fill="#C0C0C0"/>
<rect x="603" y="389" width="1" height="64" fill="#C0C0C0"/>
<rect x="611" y="385" width="1" height="68" fill="#C0C0C0"/>
<rect x="619" y="380" width="1" height="73" fill="#C0C0C0"/>
<rect x="627" y="376" width="1" height="77" fill="#C0C0C0"/>
<rect x="635" y="375" width="1" height="78" fill="#C0C0C0"/>
<rect x="643" y="374" width="1" height="79" fill="#C0C0C0"/>
<rect x="651" y="376" width="1" height="77" fill="#C0C0C0"/>
<rect x="659" y="376" width="1" height="77" fill="#C0C0C0"/>
<rect x="667" y="378" width="1" height="75" fill="#C0C0C0"/>
<rect x="675" y="385" width="1" height="68" fill="#C0C0C0"/>
<rect x="683" y="391" width="1" height="62" fill="#C0C0C0"/>
<rect x="691" y="395" width="1" height="58" fill="#C0C0C0"/>
<rect x="699" y="401" width="1" height="52" fill="#C0C0C0"/>
<rect x="707" y="402" width="1" height="51" fill="#C0C0C0"/>
<rect x="715" y="409" width="1" height="44" fill="#C0C0C0"/>
<rect x="723" y="418" width="1" height="35" fill="#C0C0C0"/>
<rect x="731" y="427" width="1" height="26" fill="#C0C0C0"/>
<rect x="739" y="437" width="1" height="16" fill="#C0C0C0"/>
<rect x="747" y="444" width="1" height="9" fill="#C0C0C0"/>
<rect x="755" y="452" width="1" height="1" fill="#C0C0C0"/>
<rect x="771" y="452" width="1" height="1" fill="#C0C0C0"/>
<rect x="779" y="452" width="1" height="2" fill="#C0C0C0"/>
<rect x="787" y="452" width="1" height="6" fill="#C0C0C0"/>
<rect x="795" y="452" width="1" height="10" fill="#C0C0C0"/>
<rect x="803" y="452" width="1" height="21" fill="#C0C0C0"/>
<text y="369" font-size="9.33" fill="#000" stroke="#000" stroke-width="0.25"><tspan x="7.6" textLength="28" lengthAdjust="spacingAndGlyphs">MACD</tspan><tspan x="36.3" textLength="36" lengthAdjust="spacingAndGlyphs">(12,26,9)</tspan> <tspan x="75.4" textLength="26.2" lengthAdjust="spacingAndGlyphs">-1.525</tspan> <tspan x="105.4" textLength="25.4" lengthAdjust="spacingAndGlyphs">-0.097</tspan></text>
<path d="M3 371.5h2M5 370.5h1M9 369.5h3M15 367.5h3M21 365.5h3M27 364.5h3M33 364.5h3M39 364.5h3M45 364.5h2M47 365.5h1M51 365.5h3M57 365.5h3M63 365.5h3M69 365.5h3M75 365.5h3M81 366.5h3M87 366.5h3M93 366.5h2M95 367.5h1M99 367.5h3M105 368.5h3M111 370.5h3M117 373.5h2M119 374.5h1M123 377.5h1M124 378.5h1M125 379.5h1M129 382.5h2M131 383.5h1M135 387.5h1M136 388.5h1M137 389.5h1M141 393.5h1M142 394.5h1M143 395.5h1M146 399.5h1M147 400.5h1M148 401.5h1M152 405.5h1M153 406.5h1M154 407.5h1M158 411.5h1M159 412.5h1M160 413.5h1M164 417.5h1M165 418.5h1M166 419.5h1M170 422.5h1M171 423.5h1M172 424.5h1M176 426.5h1M177 427.5h2M182 430.5h1M183 431.5h2M188 434.5h2M190 435.5h1M194 437.5h1M195 438.5h2M200 440.5h2M202 441.5h1M206 443.5h2M208 444.5h1M212 445.5h1M213 446.5h2M218 447.5h3M224 449.5h2M226 450.5h1M230 451.5h1M231 452.5h2M236 453.5h1M237 454.5h2M242 455.5h3M248 457.5h2M250 458.5h1M254 458.5h1M255 459.5h2M260 459.5h3M266 460.5h3M272 461.5h3M278 461.5h3M284 461.5h3M290 461.5h3M296 461.5h3M302 461.5h1M303 460.5h2M308 460.5h3M314 459.5h3M320 458.5h1M321 457.5h2M326 456.5h3M332 454.5h2M334 453.5h1M338 451.5h2M340 450.5h1M344 448.5h2M346 447.5h1M350 444.5h1M351 443.5h2M356 439.5h2M358 438.5h1M362 436.5h2M364 435.5h1M368 433.5h2M370 432.5h1M374 430.5h1M375 429.5h2M380 426.5h2M382 425.5h1M386 423.5h2M388 422.5h1M392 420.5h2M394 419.5h1M398 418.5h3M404 417.5h3M410 417.5h3M416 418.5h3M422 418.5h1M423 419.5h2M428 419.5h3M434 420.5h3M440 421.5h1M441 422.5h2M446 423.5h3M452 425.5h2M454 426.5h1M458 428.5h3M464 430.5h2M466 431.5h1M470 433.5h2M472 434.5h1M476 435.5h1M477 436.5h2M482 437.5h3M488 438.5h1M489 439.5h2M494 439.5h1M495 440.5h2M500 440.5h1M501 441.5h2M506 442.5h3M512 443.5h3M518 443.5h1M519 444.5h2M524 444.5h3M530 444.5h3M536 444.5h3M542 444.5h3M548 444.5h3M554 443.5h3M560 442.5h3M566 440.5h2M568 439.5h1M572 438.5h1M573 437.5h2M578 435.5h2M580 434.5h1M584 432.5h2M586 431.5h1M590 429.5h1M591 428.5h2M596 425.5h1M597 424.5h2M602 421.5h1M603 420.5h1M604 419.5h1M608 416.5h1M609 415.5h2M614 411.5h1M615 410.5h1M616 409.5h1M620 405.5h1M621 404.5h1M622 403.5h1M626 400.5h1M627 399.5h1M628 398.5h1M632 395.5h1M633 394.5h2M638 391.5h1M639 390.5h2M644 387.5h2M646 386.5h1M650 384.5h1M651 383.5h2M656 381.5h2M658 380.5h1M662 379.5h3M668 378.5h3M674 377.5h3M680 378.5h3M686 379.5h3M692 380.5h1M693 381.5h2M698 382.5h3M704 384.5h2M706 385.5h1M710 387.5h2M712 388.5h1M716 390.5h2M718 391.5h1M722 393.5h1M723 394.5h1M724 395.5h1M728 397.5h1M729 398.5h2M734 402.5h1M735 403.5h1M736 404.5h1M740 408.5h1M741 409.5h2M746 412.5h1M747 413.5h1M748 414.5h1M752 417.5h1M753 418.5h1M754 419.5h1M758 423.5h1M759 424.5h2M764 428.5h2M766 429.5h1M770 431.5h1M771 432.5h1M772 433.5h1M776 436.5h1M777 437.5h2M782 440.5h1M783 441.5h2M788 444.5h1M789 445.5h2M794 448.5h1M795 449.5h1M796 450.5h1M800 452.5h2M802 453.5h1" fill="none" stroke="#FF0000" stroke-width="1"/>
</g>
<rect x="2" y="2" width="856" height="1" fill="#000"/>
<rect x="2" y="354" width="856" height="1" fill="#000"/>
<rect x="2" y="356" width="856" height="1" fill="#000"/>
<rect x="2" y="479" width="856" height="1" fill="#000"/>
<rect x="2" y="2" width="1" height="353" fill="#000"/>
<rect x="857" y="2" width="1" height="353" fill="#000"/>
<rect x="2" y="356" width="1" height="124" fill="#000"/>
<rect x="857" y="356" width="1" height="124" fill="#000"/>
<rect x="858" y="21" width="2" height="1" fill="#000"/>
<text x="863.6" y="25" font-size="9.33" fill="#000" stroke="#000" stroke-width="0.25" text-anchor="start" textLength="32" lengthAdjust="spacingAndGlyphs">1263.40</text>
<rect x="858" y="54" width="2" height="1" fill="#000"/>
<text x="863.6" y="58" font-size="9.33" fill="#000" stroke="#000" stroke-width="0.25" text-anchor="start" textLength="32" lengthAdjust="spacingAndGlyphs">1258.60</text>
<rect x="858" y="87" width="2" height="1" fill="#000"/>
<text x="863.6" y="91" font-size="9.33" fill="#000" stroke="#000" stroke-width="0.25" text-anchor="start" textLength="32" lengthAdjust="spacingAndGlyphs">1253.90</text>
<rect x="858" y="120" width="2" height="1" fill="#000"/>
<text x="863.6" y="124" font-size="9.33" fill="#000" stroke="#000" stroke-width="0.25" text-anchor="start" textLength="32" lengthAdjust="spacingAndGlyphs">1249.10</text>
<rect x="858" y="153" width="2" height="1" fill="#000"/>
<text x="863.6" y="157" font-size="9.33" fill="#000" stroke="#000" stroke-width="0.25" text-anchor="start" textLength="32" lengthAdjust="spacingAndGlyphs">1244.30</text>
<rect x="858" y="186" width="2" height="1" fill="#000"/>
<text x="863.6" y="190" font-size="9.33" fill="#000" stroke="#000" stroke-width="0.25" text-anchor="start" textLength="32" lengthAdjust="spacingAndGlyphs">1239.50</text>
<rect x="858" y="219" width="2" height="1" fill="#000"/>
<text x="863.6" y="223" font-size="9.33" fill="#000" stroke="#000" stroke-width="0.25" text-anchor="start" textLength="32" lengthAdjust="spacingAndGlyphs">1234.70</text>
<rect x="858" y="252" width="2" height="1" fill="#000"/>
<text x="863.6" y="256" font-size="9.33" fill="#000" stroke="#000" stroke-width="0.25" text-anchor="start" textLength="32" lengthAdjust="spacingAndGlyphs">1229.90</text>
<rect x="858" y="285" width="2" height="1" fill="#000"/>
<text x="863.6" y="289" font-size="9.33" fill="#000" stroke="#000" stroke-width="0.25" text-anchor="start" textLength="32" lengthAdjust="spacingAndGlyphs">1225.10</text>
<rect x="858" y="318" width="2" height="1" fill="#000"/>
<text x="863.6" y="322" font-size="9.33" fill="#000" stroke="#000" stroke-width="0.25" text-anchor="start" textLength="32" lengthAdjust="spacingAndGlyphs">1220.30</text>
<rect x="858" y="351" width="2" height="1" fill="#000"/>
<text x="863.6" y="355" font-size="9.33" fill="#000" stroke="#000" stroke-width="0.25" text-anchor="start" textLength="32" lengthAdjust="spacingAndGlyphs">1215.50</text>
<rect x="858" y="452" width="1" height="1" fill="#000"/>
<text x="861.3" y="456" font-size="9.33" fill="#000" stroke="#000" stroke-width="0.25" text-anchor="start" textLength="17.8" lengthAdjust="spacingAndGlyphs">0.00</text>
<rect x="858" y="358" width="1" height="1" fill="#000"/>
<text x="861.3" y="367" font-size="9.33" fill="#000" stroke="#000" stroke-width="0.25" text-anchor="start" textLength="22.2" lengthAdjust="spacingAndGlyphs">6.981</text>
<rect x="858" y="478" width="1" height="1" fill="#000"/>
<text x="861.3" y="476" font-size="9.33" fill="#000" stroke="#000" stroke-width="0.25" text-anchor="start" textLength="20.5" lengthAdjust="spacingAndGlyphs">-1.93</text>
<rect x="859" y="203" width="41" height="11" fill="#000"/>
<text x="863.6" y="212" font-size="9.33" fill="#fff" text-anchor="start" textLength="32" lengthAdjust="spacingAndGlyphs">1236.29</text>
<text x="856" y="260" font-size="9.33" fill="#000" stroke="#000" stroke-width="0.25" text-anchor="end" textLength="17.5" lengthAdjust="spacingAndGlyphs">23.6</text>
<rect x="3" y="480" width="1" height="3" fill="#000"/>
<text x="1.9" y="492" font-size="9.33" fill="#000" stroke="#000" stroke-width="0.25" text-anchor="start">7 Feb 2017</text>
<rect x="67" y="480" width="1" height="3" fill="#000"/>
<text x="65.9" y="492" font-size="9.33" fill="#000" stroke="#000" stroke-width="0.25" text-anchor="start">8 Feb 21:00</text>
<rect x="131" y="480" width="1" height="3" fill="#000"/>
<text x="129.9" y="492" font-size="9.33" fill="#000" stroke="#000" stroke-width="0.25" text-anchor="start">10 Feb 05:00</text>
<rect x="195" y="480" width="1" height="3" fill="#000"/>
<text x="193.9" y="492" font-size="9.33" fill="#000" stroke="#000" stroke-width="0.25" text-anchor="start">13 Feb 13:00</text>
<rect x="259" y="480" width="1" height="3" fill="#000"/>
<text x="257.9" y="492" font-size="9.33" fill="#000" stroke="#000" stroke-width="0.25" text-anchor="start">14 Feb 21:00</text>
<rect x="323" y="480" width="1" height="3" fill="#000"/>
<text x="321.9" y="492" font-size="9.33" fill="#000" stroke="#000" stroke-width="0.25" text-anchor="start">16 Feb 05:00</text>
<rect x="387" y="480" width="1" height="3" fill="#000"/>
<text x="385.9" y="492" font-size="9.33" fill="#000" stroke="#000" stroke-width="0.25" text-anchor="start">17 Feb 13:00</text>
<rect x="451" y="480" width="1" height="3" fill="#000"/>
<text x="449.9" y="492" font-size="9.33" fill="#000" stroke="#000" stroke-width="0.25" text-anchor="start">21 Feb 01:00</text>
<rect x="515" y="480" width="1" height="3" fill="#000"/>
<text x="513.9" y="492" font-size="9.33" fill="#000" stroke="#000" stroke-width="0.25" text-anchor="start">22 Feb 13:00</text>
<rect x="579" y="480" width="1" height="3" fill="#000"/>
<text x="577.9" y="492" font-size="9.33" fill="#000" stroke="#000" stroke-width="0.25" text-anchor="start">23 Feb 21:00</text>
<rect x="643" y="480" width="1" height="3" fill="#000"/>
<text x="641.9" y="492" font-size="9.33" fill="#000" stroke="#000" stroke-width="0.25" text-anchor="start">27 Feb 05:00</text>
<rect x="707" y="480" width="1" height="3" fill="#000"/>
<text x="705.9" y="492" font-size="9.33" fill="#000" stroke="#000" stroke-width="0.25" text-anchor="start">28 Feb 13:00</text>
<rect x="771" y="480" width="1" height="3" fill="#000"/>
<text x="769.9" y="492" font-size="9.33" fill="#000" stroke="#000" stroke-width="0.25" text-anchor="start">1 Mar 21:00</text>
<path d="M6 9h7l-3.5 4z" fill="#000"/>
<text y="14" font-size="9.33" fill="#000" stroke="#000" stroke-width="0.25"><tspan x="18" textLength="40.6" lengthAdjust="spacingAndGlyphs">GOLD,H4</tspan> <tspan x="65.2" textLength="32.4" lengthAdjust="spacingAndGlyphs">1243.20</tspan> <tspan x="101.3" textLength="32.4" lengthAdjust="spacingAndGlyphs">1243.56</tspan> <tspan x="137.4" textLength="32.4" lengthAdjust="spacingAndGlyphs">1235.33</tspan> <tspan x="173.5" textLength="32.4" lengthAdjust="spacingAndGlyphs">1236.29</tspan></text>
<g shape-rendering="auto" class="wm">
<rect x="244" y="450" width="1" height="37" fill="#000" fill-opacity="0.22"/>
<rect x="18" y="486" width="226" height="1" fill="#000" fill-opacity="0.22"/>
<rect x="245" y="451" width="1" height="37" fill="#000" fill-opacity="0.12"/>
<rect x="19" y="487" width="226" height="1" fill="#000" fill-opacity="0.12"/>
<rect x="246" y="452" width="1" height="37" fill="#000" fill-opacity="0.05"/>
<rect x="20" y="488" width="226" height="1" fill="#000" fill-opacity="0.05"/>
<rect x="17" y="449" width="227" height="37" fill="url(#wg)"/>
<path d="M17.5 485.5V449.5H243.5" fill="none" stroke="#8c0000" stroke-opacity="0.22" stroke-width="1"/>
<path d="M243.5 450V485.5H18" fill="none" stroke="#8c0000" stroke-opacity="0.15" stroke-width="1"/>
<path d="M18.5 484.5V450.5H242.5" fill="none" stroke="#fff" stroke-opacity="0.2" stroke-width="1"/>
<g transform="translate(0.6 0.8)" fill="#9a2630" fill-opacity="0.45">
<text x="27.9" y="473.8" font-size="22">[</text>
<text x="45.6" y="474.8" font-size="22.5" textLength="147.4" lengthAdjust="spacingAndGlyphs">www.instaforex</text>
<text x="192.6" y="474.8" font-size="16.8" textLength="30.6" lengthAdjust="spacingAndGlyphs">.com</text>
<text x="227.2" y="475" font-size="15.5">]</text>
</g>
<g transform="translate(0 0)" fill="#fff" fill-opacity="1">
<text x="27.9" y="473.8" font-size="22">[</text>
<text x="45.6" y="474.8" font-size="22.5" textLength="147.4" lengthAdjust="spacingAndGlyphs">www.instaforex</text>
<text x="192.6" y="474.8" font-size="16.8" textLength="30.6" lengthAdjust="spacingAndGlyphs">.com</text>
<text x="227.2" y="475" font-size="15.5">]</text>
</g>
</g>
</svg>
</body></html>
